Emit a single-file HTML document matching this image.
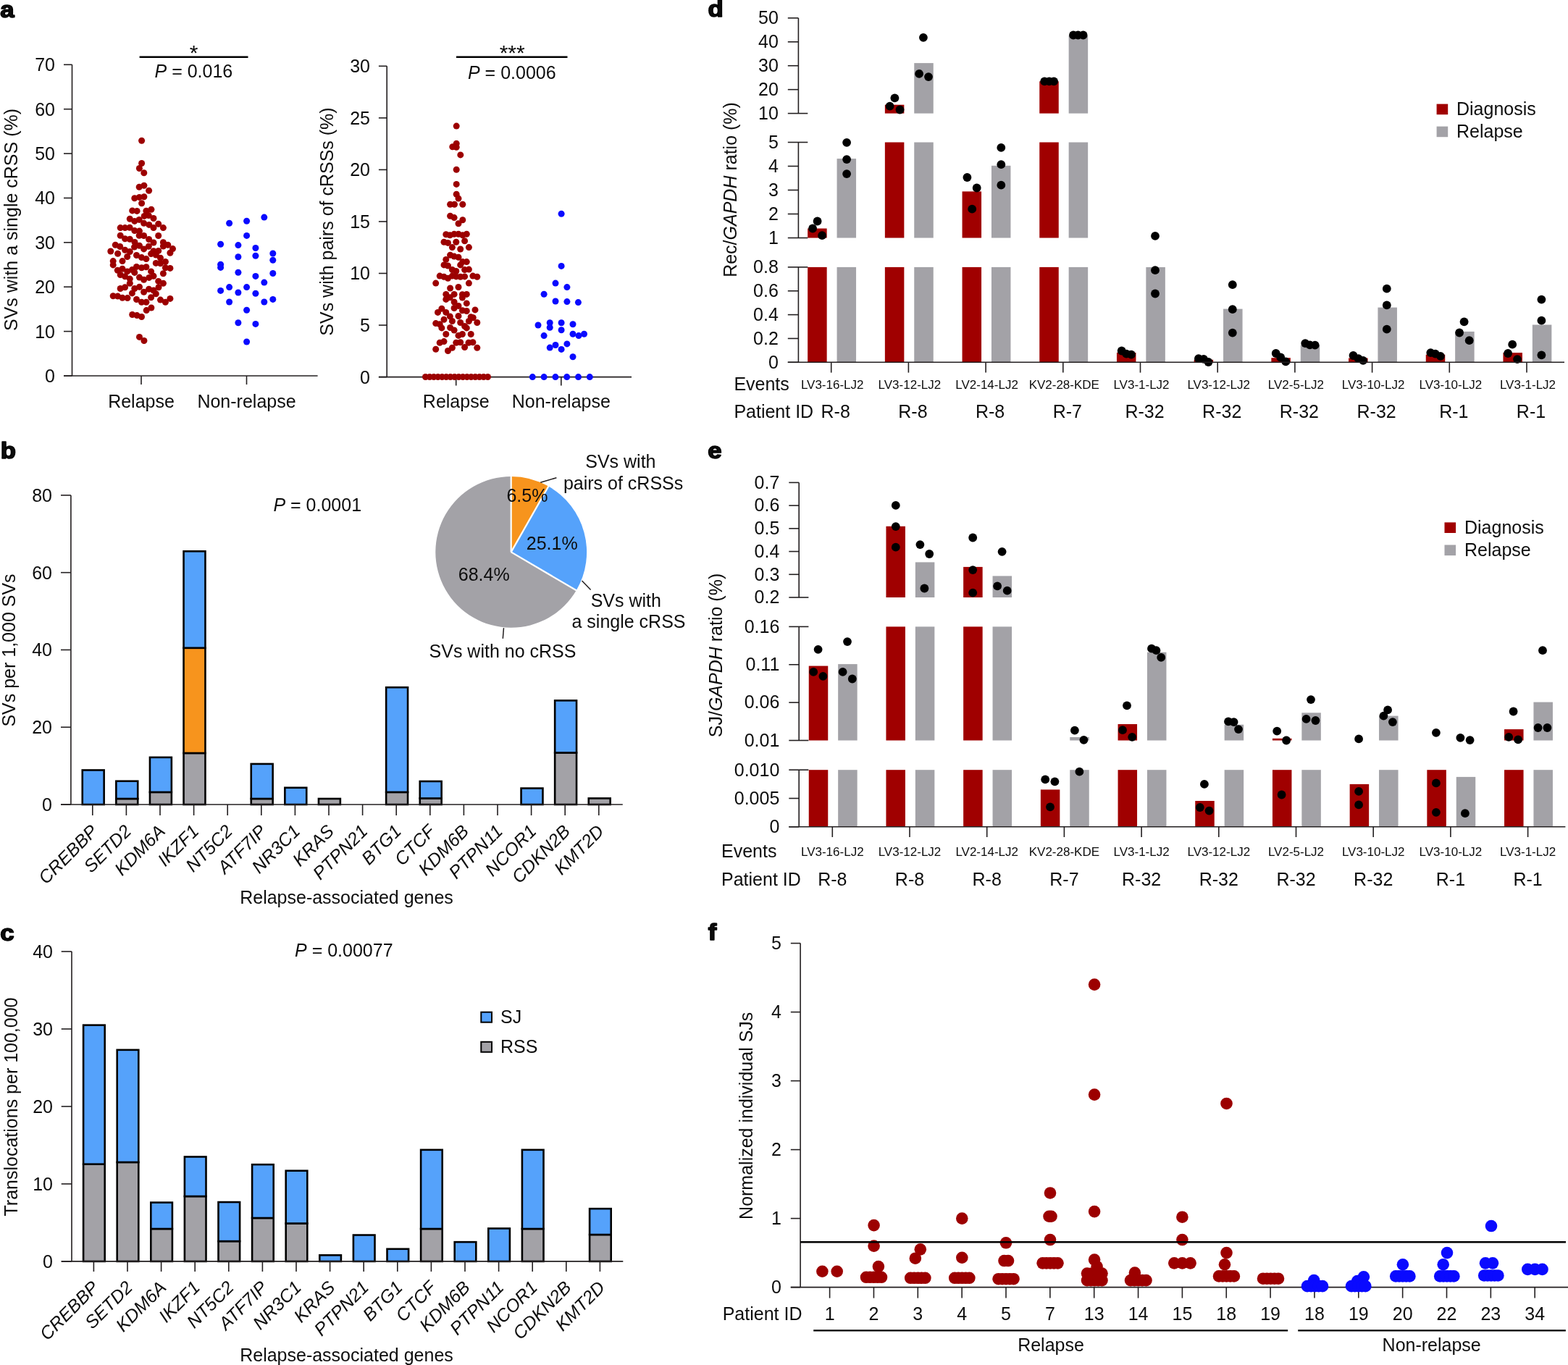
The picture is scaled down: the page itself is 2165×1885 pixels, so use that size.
<!DOCTYPE html>
<html><head><meta charset="utf-8"><title>Figure</title>
<style>
html,body{margin:0;padding:0;background:#fff;}
svg{display:block;}
text{font-family:"Liberation Sans", Arial, Helvetica, sans-serif;fill:#0d0d0d;}
</style></head>
<body>
<svg width="2165" height="1885" viewBox="0 0 2165 1885">
<rect width="2165" height="1885" fill="#fff"/>
<text transform="translate(0.2 23.6) scale(1.07 0.97)" font-size="32.5" font-weight="bold" fill="#000" stroke="#000" stroke-width="1.6" stroke-linejoin="round">a</text>
<line x1="99.5" y1="89.3" x2="99.5" y2="519" stroke="#231f20" stroke-width="1.6"/>
<line x1="88" y1="519" x2="99.5" y2="519" stroke="#231f20" stroke-width="1.6"/>
<text x="76" y="527.9" font-size="25" text-anchor="end">0</text>
<line x1="88" y1="457.61" x2="99.5" y2="457.61" stroke="#231f20" stroke-width="1.6"/>
<text x="76" y="466.51" font-size="25" text-anchor="end">10</text>
<line x1="88" y1="396.23" x2="99.5" y2="396.23" stroke="#231f20" stroke-width="1.6"/>
<text x="76" y="405.13" font-size="25" text-anchor="end">20</text>
<line x1="88" y1="334.84" x2="99.5" y2="334.84" stroke="#231f20" stroke-width="1.6"/>
<text x="76" y="343.74" font-size="25" text-anchor="end">30</text>
<line x1="88" y1="273.46" x2="99.5" y2="273.46" stroke="#231f20" stroke-width="1.6"/>
<text x="76" y="282.36" font-size="25" text-anchor="end">40</text>
<line x1="88" y1="212.07" x2="99.5" y2="212.07" stroke="#231f20" stroke-width="1.6"/>
<text x="76" y="220.97" font-size="25" text-anchor="end">50</text>
<line x1="88" y1="150.69" x2="99.5" y2="150.69" stroke="#231f20" stroke-width="1.6"/>
<text x="76" y="159.59" font-size="25" text-anchor="end">60</text>
<line x1="88" y1="89.3" x2="99.5" y2="89.3" stroke="#231f20" stroke-width="1.6"/>
<text x="76" y="98.2" font-size="25" text-anchor="end">70</text>
<line x1="88" y1="519" x2="438.6" y2="519" stroke="#231f20" stroke-width="1.6"/>
<line x1="195" y1="519" x2="195" y2="531" stroke="#231f20" stroke-width="1.6"/>
<line x1="340.5" y1="519" x2="340.5" y2="531" stroke="#231f20" stroke-width="1.6"/>
<text x="195" y="563" font-size="25" text-anchor="middle">Relapse</text>
<text x="340.5" y="563" font-size="25" text-anchor="middle">Non-relapse</text>
<text x="24" y="303.5" font-size="25" text-anchor="middle" transform="rotate(-90 24 303.5)">SVs with a single cRSS (%)</text>
<line x1="192.6" y1="78.8" x2="342.5" y2="78.8" stroke="#000" stroke-width="2.6"/>
<text x="267.6" y="82.5" font-size="30" text-anchor="middle">*</text>
<text x="267.4" y="106.5" font-size="25" text-anchor="middle"><tspan font-style="italic">P</tspan> = 0.016</text>
<circle cx="195.6" cy="194.3" r="4.5" fill="#9c0000"/>
<circle cx="195.6" cy="225.5" r="4.5" fill="#9c0000"/>
<circle cx="192.4" cy="232.5" r="4.5" fill="#9c0000"/>
<circle cx="198.8" cy="238.8" r="4.5" fill="#9c0000"/>
<circle cx="198.9" cy="256.3" r="4.5" fill="#9c0000"/>
<circle cx="192.2" cy="258.3" r="4.5" fill="#9c0000"/>
<circle cx="205.6" cy="263.3" r="4.5" fill="#9c0000"/>
<circle cx="185.8" cy="273.7" r="4.5" fill="#9c0000"/>
<circle cx="192.4" cy="272.4" r="4.5" fill="#9c0000"/>
<circle cx="198.9" cy="271.7" r="4.5" fill="#9c0000"/>
<circle cx="195.6" cy="280.7" r="4.5" fill="#9c0000"/>
<circle cx="182.7" cy="290.9" r="4.5" fill="#9c0000"/>
<circle cx="189.1" cy="291.4" r="4.5" fill="#9c0000"/>
<circle cx="201.9" cy="291.2" r="4.5" fill="#9c0000"/>
<circle cx="208.9" cy="289.2" r="4.5" fill="#9c0000"/>
<circle cx="199.2" cy="298.4" r="4.5" fill="#9c0000"/>
<circle cx="205.3" cy="297.6" r="4.5" fill="#9c0000"/>
<circle cx="212" cy="301.5" r="4.5" fill="#9c0000"/>
<circle cx="179.3" cy="302.3" r="4.5" fill="#9c0000"/>
<circle cx="185.8" cy="305.4" r="4.5" fill="#9c0000"/>
<circle cx="192.2" cy="303.4" r="4.5" fill="#9c0000"/>
<circle cx="198.6" cy="308.2" r="4.5" fill="#9c0000"/>
<circle cx="205.8" cy="310.4" r="4.5" fill="#9c0000"/>
<circle cx="212" cy="314.6" r="4.5" fill="#9c0000"/>
<circle cx="218.7" cy="309.3" r="4.5" fill="#9c0000"/>
<circle cx="225.4" cy="314.6" r="4.5" fill="#9c0000"/>
<circle cx="166.2" cy="314.6" r="4.5" fill="#9c0000"/>
<circle cx="172.6" cy="314.6" r="4.5" fill="#9c0000"/>
<circle cx="179.1" cy="314.3" r="4.5" fill="#9c0000"/>
<circle cx="185.8" cy="318.5" r="4.5" fill="#9c0000"/>
<circle cx="192.5" cy="319.1" r="4.5" fill="#9c0000"/>
<circle cx="166.2" cy="325.2" r="4.5" fill="#9c0000"/>
<circle cx="172.6" cy="329.7" r="4.5" fill="#9c0000"/>
<circle cx="179.3" cy="330.2" r="4.5" fill="#9c0000"/>
<circle cx="192.2" cy="325.2" r="4.5" fill="#9c0000"/>
<circle cx="198.6" cy="325.5" r="4.5" fill="#9c0000"/>
<circle cx="218.7" cy="325.5" r="4.5" fill="#9c0000"/>
<circle cx="205.6" cy="330.5" r="4.5" fill="#9c0000"/>
<circle cx="212" cy="335" r="4.5" fill="#9c0000"/>
<circle cx="186" cy="334.4" r="4.5" fill="#9c0000"/>
<circle cx="225.4" cy="334.7" r="4.5" fill="#9c0000"/>
<circle cx="159.3" cy="338.3" r="4.5" fill="#9c0000"/>
<circle cx="165.7" cy="340.5" r="4.5" fill="#9c0000"/>
<circle cx="185.5" cy="341.1" r="4.5" fill="#9c0000"/>
<circle cx="192.5" cy="339.2" r="4.5" fill="#9c0000"/>
<circle cx="198.6" cy="343.9" r="4.5" fill="#9c0000"/>
<circle cx="205.3" cy="340.3" r="4.5" fill="#9c0000"/>
<circle cx="225.4" cy="340" r="4.5" fill="#9c0000"/>
<circle cx="231.8" cy="338.3" r="4.5" fill="#9c0000"/>
<circle cx="238.5" cy="343.6" r="4.5" fill="#9c0000"/>
<circle cx="152.8" cy="347" r="4.5" fill="#9c0000"/>
<circle cx="172.6" cy="345.3" r="4.5" fill="#9c0000"/>
<circle cx="179.3" cy="347.5" r="4.5" fill="#9c0000"/>
<circle cx="212" cy="346.7" r="4.5" fill="#9c0000"/>
<circle cx="218.7" cy="346.4" r="4.5" fill="#9c0000"/>
<circle cx="162.6" cy="350.3" r="4.5" fill="#9c0000"/>
<circle cx="175.7" cy="354.5" r="4.5" fill="#9c0000"/>
<circle cx="188.5" cy="352.5" r="4.5" fill="#9c0000"/>
<circle cx="195.5" cy="355.6" r="4.5" fill="#9c0000"/>
<circle cx="201.9" cy="357.6" r="4.5" fill="#9c0000"/>
<circle cx="208.6" cy="350.6" r="4.5" fill="#9c0000"/>
<circle cx="215.3" cy="352" r="4.5" fill="#9c0000"/>
<circle cx="234.9" cy="349.2" r="4.5" fill="#9c0000"/>
<circle cx="156.2" cy="360.6" r="4.5" fill="#9c0000"/>
<circle cx="156.2" cy="365.9" r="4.5" fill="#9c0000"/>
<circle cx="169" cy="360.6" r="4.5" fill="#9c0000"/>
<circle cx="221.5" cy="356.2" r="4.5" fill="#9c0000"/>
<circle cx="228.4" cy="361.5" r="4.5" fill="#9c0000"/>
<circle cx="215.3" cy="363.4" r="4.5" fill="#9c0000"/>
<circle cx="221.5" cy="363.7" r="4.5" fill="#9c0000"/>
<circle cx="188.5" cy="368.4" r="4.5" fill="#9c0000"/>
<circle cx="195.5" cy="369.8" r="4.5" fill="#9c0000"/>
<circle cx="201.9" cy="368.7" r="4.5" fill="#9c0000"/>
<circle cx="169" cy="371.2" r="4.5" fill="#9c0000"/>
<circle cx="162.3" cy="373.2" r="4.5" fill="#9c0000"/>
<circle cx="175.7" cy="374.9" r="4.5" fill="#9c0000"/>
<circle cx="182.4" cy="372.6" r="4.5" fill="#9c0000"/>
<circle cx="208.6" cy="374.9" r="4.5" fill="#9c0000"/>
<circle cx="228.4" cy="369.8" r="4.5" fill="#9c0000"/>
<circle cx="234.9" cy="370.4" r="4.5" fill="#9c0000"/>
<circle cx="225.4" cy="377.7" r="4.5" fill="#9c0000"/>
<circle cx="185.8" cy="376.4" r="4.5" fill="#9c0000"/>
<circle cx="166.2" cy="379.5" r="4.5" fill="#9c0000"/>
<circle cx="172.6" cy="381.7" r="4.5" fill="#9c0000"/>
<circle cx="179.3" cy="385.1" r="4.5" fill="#9c0000"/>
<circle cx="179.3" cy="391.2" r="4.5" fill="#9c0000"/>
<circle cx="192.5" cy="383.1" r="4.5" fill="#9c0000"/>
<circle cx="198.6" cy="386.2" r="4.5" fill="#9c0000"/>
<circle cx="205.8" cy="383.4" r="4.5" fill="#9c0000"/>
<circle cx="212" cy="381.2" r="4.5" fill="#9c0000"/>
<circle cx="218.7" cy="388.4" r="4.5" fill="#9c0000"/>
<circle cx="225.4" cy="391.2" r="4.5" fill="#9c0000"/>
<circle cx="219" cy="396.8" r="4.5" fill="#9c0000"/>
<circle cx="166.2" cy="398.5" r="4.5" fill="#9c0000"/>
<circle cx="172.6" cy="396.8" r="4.5" fill="#9c0000"/>
<circle cx="185.8" cy="398.5" r="4.5" fill="#9c0000"/>
<circle cx="192.5" cy="396.2" r="4.5" fill="#9c0000"/>
<circle cx="182.4" cy="404.9" r="4.5" fill="#9c0000"/>
<circle cx="198.6" cy="403.2" r="4.5" fill="#9c0000"/>
<circle cx="205.6" cy="399.3" r="4.5" fill="#9c0000"/>
<circle cx="212" cy="401" r="4.5" fill="#9c0000"/>
<circle cx="215.3" cy="405.7" r="4.5" fill="#9c0000"/>
<circle cx="156.2" cy="408.8" r="4.5" fill="#9c0000"/>
<circle cx="162.6" cy="409.1" r="4.5" fill="#9c0000"/>
<circle cx="169" cy="411.3" r="4.5" fill="#9c0000"/>
<circle cx="176" cy="411.6" r="4.5" fill="#9c0000"/>
<circle cx="188.5" cy="413.5" r="4.5" fill="#9c0000"/>
<circle cx="195.5" cy="417.2" r="4.5" fill="#9c0000"/>
<circle cx="201.9" cy="417.2" r="4.5" fill="#9c0000"/>
<circle cx="208.6" cy="410.7" r="4.5" fill="#9c0000"/>
<circle cx="221.5" cy="414.1" r="4.5" fill="#9c0000"/>
<circle cx="228.4" cy="417.2" r="4.5" fill="#9c0000"/>
<circle cx="234.9" cy="412.4" r="4.5" fill="#9c0000"/>
<circle cx="208.9" cy="425" r="4.5" fill="#9c0000"/>
<circle cx="202.2" cy="428.6" r="4.5" fill="#9c0000"/>
<circle cx="182.7" cy="434.5" r="4.5" fill="#9c0000"/>
<circle cx="189.1" cy="435.6" r="4.5" fill="#9c0000"/>
<circle cx="195.5" cy="437.5" r="4.5" fill="#9c0000"/>
<circle cx="192.5" cy="465.4" r="4.5" fill="#9c0000"/>
<circle cx="198.9" cy="470.5" r="4.5" fill="#9c0000"/>
<circle cx="316.6" cy="308.2" r="4.5" fill="#0a0aff"/>
<circle cx="340.6" cy="305.3" r="4.5" fill="#0a0aff"/>
<circle cx="364.8" cy="300.1" r="4.5" fill="#0a0aff"/>
<circle cx="340.6" cy="325.4" r="4.5" fill="#0a0aff"/>
<circle cx="304.6" cy="337.3" r="4.5" fill="#0a0aff"/>
<circle cx="328.9" cy="338.6" r="4.5" fill="#0a0aff"/>
<circle cx="352.9" cy="342.5" r="4.5" fill="#0a0aff"/>
<circle cx="328.9" cy="354.8" r="4.5" fill="#0a0aff"/>
<circle cx="352.9" cy="353.2" r="4.5" fill="#0a0aff"/>
<circle cx="376.8" cy="350" r="4.5" fill="#0a0aff"/>
<circle cx="304.6" cy="365.2" r="4.5" fill="#0a0aff"/>
<circle cx="304.6" cy="369.4" r="4.5" fill="#0a0aff"/>
<circle cx="376.8" cy="359.3" r="4.5" fill="#0a0aff"/>
<circle cx="328.9" cy="376.2" r="4.5" fill="#0a0aff"/>
<circle cx="352.9" cy="381.4" r="4.5" fill="#0a0aff"/>
<circle cx="376.8" cy="377.5" r="4.5" fill="#0a0aff"/>
<circle cx="364.8" cy="390.1" r="4.5" fill="#0a0aff"/>
<circle cx="304.6" cy="401.4" r="4.5" fill="#0a0aff"/>
<circle cx="316.6" cy="396.6" r="4.5" fill="#0a0aff"/>
<circle cx="328.9" cy="404" r="4.5" fill="#0a0aff"/>
<circle cx="340.6" cy="396.6" r="4.5" fill="#0a0aff"/>
<circle cx="352.9" cy="405.3" r="4.5" fill="#0a0aff"/>
<circle cx="316.6" cy="417" r="4.5" fill="#0a0aff"/>
<circle cx="364.8" cy="417" r="4.5" fill="#0a0aff"/>
<circle cx="376.8" cy="413.4" r="4.5" fill="#0a0aff"/>
<circle cx="340.6" cy="428.3" r="4.5" fill="#0a0aff"/>
<circle cx="328.9" cy="445.8" r="4.5" fill="#0a0aff"/>
<circle cx="352.9" cy="447.4" r="4.5" fill="#0a0aff"/>
<circle cx="340.6" cy="472" r="4.5" fill="#0a0aff"/>
<line x1="534.2" y1="91.3" x2="534.2" y2="520.6" stroke="#231f20" stroke-width="1.6"/>
<line x1="522.9" y1="520.6" x2="534.2" y2="520.6" stroke="#231f20" stroke-width="1.6"/>
<text x="511" y="529.5" font-size="25" text-anchor="end">0</text>
<line x1="522.9" y1="449.05" x2="534.2" y2="449.05" stroke="#231f20" stroke-width="1.6"/>
<text x="511" y="457.95" font-size="25" text-anchor="end">5</text>
<line x1="522.9" y1="377.5" x2="534.2" y2="377.5" stroke="#231f20" stroke-width="1.6"/>
<text x="511" y="386.4" font-size="25" text-anchor="end">10</text>
<line x1="522.9" y1="305.95" x2="534.2" y2="305.95" stroke="#231f20" stroke-width="1.6"/>
<text x="511" y="314.85" font-size="25" text-anchor="end">15</text>
<line x1="522.9" y1="234.4" x2="534.2" y2="234.4" stroke="#231f20" stroke-width="1.6"/>
<text x="511" y="243.3" font-size="25" text-anchor="end">20</text>
<line x1="522.9" y1="162.85" x2="534.2" y2="162.85" stroke="#231f20" stroke-width="1.6"/>
<text x="511" y="171.75" font-size="25" text-anchor="end">25</text>
<line x1="522.9" y1="91.3" x2="534.2" y2="91.3" stroke="#231f20" stroke-width="1.6"/>
<text x="511" y="100.2" font-size="25" text-anchor="end">30</text>
<line x1="522.9" y1="520.6" x2="872" y2="520.6" stroke="#231f20" stroke-width="1.6"/>
<line x1="629.7" y1="520.6" x2="629.7" y2="532.5" stroke="#231f20" stroke-width="1.6"/>
<line x1="774.8" y1="520.6" x2="774.8" y2="532.5" stroke="#231f20" stroke-width="1.6"/>
<text x="629.7" y="563" font-size="25" text-anchor="middle">Relapse</text>
<text x="774.8" y="563" font-size="25" text-anchor="middle">Non-relapse</text>
<text x="459.5" y="306" font-size="25" text-anchor="middle" transform="rotate(-90 459.5 306)">SVs with pairs of cRSSs (%)</text>
<line x1="630" y1="78.8" x2="783.5" y2="78.8" stroke="#000" stroke-width="2.6"/>
<text x="707.2" y="82.5" font-size="30" text-anchor="middle">***</text>
<text x="706.8" y="108.5" font-size="25" text-anchor="middle"><tspan font-style="italic">P</tspan> = 0.0006</text>
<circle cx="630.2" cy="174.1" r="4.5" fill="#9c0000"/>
<circle cx="630.2" cy="198.2" r="4.5" fill="#9c0000"/>
<circle cx="624.8" cy="202.8" r="4.5" fill="#9c0000"/>
<circle cx="630.2" cy="203.2" r="4.5" fill="#9c0000"/>
<circle cx="635.8" cy="213.9" r="4.5" fill="#9c0000"/>
<circle cx="630.2" cy="234.3" r="4.5" fill="#9c0000"/>
<circle cx="630.2" cy="254.4" r="4.5" fill="#9c0000"/>
<circle cx="630.2" cy="268.2" r="4.5" fill="#9c0000"/>
<circle cx="633" cy="274.1" r="4.5" fill="#9c0000"/>
<circle cx="621.6" cy="282.3" r="4.5" fill="#9c0000"/>
<circle cx="627.5" cy="282.3" r="4.5" fill="#9c0000"/>
<circle cx="638.8" cy="282.3" r="4.5" fill="#9c0000"/>
<circle cx="621.6" cy="298.3" r="4.5" fill="#9c0000"/>
<circle cx="627.1" cy="300.6" r="4.5" fill="#9c0000"/>
<circle cx="638.8" cy="303.8" r="4.5" fill="#9c0000"/>
<circle cx="633" cy="308.8" r="4.5" fill="#9c0000"/>
<circle cx="615.8" cy="323.7" r="4.5" fill="#9c0000"/>
<circle cx="621.3" cy="324.8" r="4.5" fill="#9c0000"/>
<circle cx="627.1" cy="323.3" r="4.5" fill="#9c0000"/>
<circle cx="633" cy="323.3" r="4.5" fill="#9c0000"/>
<circle cx="638.8" cy="324.8" r="4.5" fill="#9c0000"/>
<circle cx="644.3" cy="323.3" r="4.5" fill="#9c0000"/>
<circle cx="613" cy="334.2" r="4.5" fill="#9c0000"/>
<circle cx="618.5" cy="335.4" r="4.5" fill="#9c0000"/>
<circle cx="629.8" cy="334.2" r="4.5" fill="#9c0000"/>
<circle cx="641.6" cy="332.7" r="4.5" fill="#9c0000"/>
<circle cx="624.4" cy="341.6" r="4.5" fill="#9c0000"/>
<circle cx="635.7" cy="344" r="4.5" fill="#9c0000"/>
<circle cx="647.4" cy="341.6" r="4.5" fill="#9c0000"/>
<circle cx="621.6" cy="352.2" r="4.5" fill="#9c0000"/>
<circle cx="627.1" cy="354.1" r="4.5" fill="#9c0000"/>
<circle cx="633" cy="355.3" r="4.5" fill="#9c0000"/>
<circle cx="615.8" cy="358.4" r="4.5" fill="#9c0000"/>
<circle cx="644.3" cy="361.6" r="4.5" fill="#9c0000"/>
<circle cx="638.8" cy="361.6" r="4.5" fill="#9c0000"/>
<circle cx="613" cy="365.9" r="4.5" fill="#9c0000"/>
<circle cx="618.5" cy="367" r="4.5" fill="#9c0000"/>
<circle cx="635.7" cy="365.9" r="4.5" fill="#9c0000"/>
<circle cx="624.4" cy="372.5" r="4.5" fill="#9c0000"/>
<circle cx="629.8" cy="374.5" r="4.5" fill="#9c0000"/>
<circle cx="641.6" cy="372.5" r="4.5" fill="#9c0000"/>
<circle cx="647.4" cy="372.1" r="4.5" fill="#9c0000"/>
<circle cx="607.2" cy="381.1" r="4.5" fill="#9c0000"/>
<circle cx="613" cy="382.3" r="4.5" fill="#9c0000"/>
<circle cx="618.5" cy="384.2" r="4.5" fill="#9c0000"/>
<circle cx="624.4" cy="381.1" r="4.5" fill="#9c0000"/>
<circle cx="629.8" cy="381.9" r="4.5" fill="#9c0000"/>
<circle cx="635.7" cy="382.3" r="4.5" fill="#9c0000"/>
<circle cx="641.6" cy="381.9" r="4.5" fill="#9c0000"/>
<circle cx="652.9" cy="381.1" r="4.5" fill="#9c0000"/>
<circle cx="658.8" cy="382.3" r="4.5" fill="#9c0000"/>
<circle cx="601.7" cy="391.1" r="4.5" fill="#9c0000"/>
<circle cx="647.4" cy="391.1" r="4.5" fill="#9c0000"/>
<circle cx="621.6" cy="398" r="4.5" fill="#9c0000"/>
<circle cx="633" cy="396.5" r="4.5" fill="#9c0000"/>
<circle cx="615.8" cy="406.4" r="4.5" fill="#9c0000"/>
<circle cx="627.1" cy="406.4" r="4.5" fill="#9c0000"/>
<circle cx="638.4" cy="406.8" r="4.5" fill="#9c0000"/>
<circle cx="644.3" cy="406.4" r="4.5" fill="#9c0000"/>
<circle cx="615.8" cy="413.4" r="4.5" fill="#9c0000"/>
<circle cx="621.3" cy="410.7" r="4.5" fill="#9c0000"/>
<circle cx="638.4" cy="411.1" r="4.5" fill="#9c0000"/>
<circle cx="627.1" cy="417" r="4.5" fill="#9c0000"/>
<circle cx="644.3" cy="418.9" r="4.5" fill="#9c0000"/>
<circle cx="633" cy="422.4" r="4.5" fill="#9c0000"/>
<circle cx="609.9" cy="426.3" r="4.5" fill="#9c0000"/>
<circle cx="627.1" cy="425.5" r="4.5" fill="#9c0000"/>
<circle cx="638.4" cy="428.7" r="4.5" fill="#9c0000"/>
<circle cx="644.3" cy="429.5" r="4.5" fill="#9c0000"/>
<circle cx="656" cy="427.9" r="4.5" fill="#9c0000"/>
<circle cx="604.5" cy="431.4" r="4.5" fill="#9c0000"/>
<circle cx="615.8" cy="431.4" r="4.5" fill="#9c0000"/>
<circle cx="621.3" cy="436.9" r="4.5" fill="#9c0000"/>
<circle cx="633" cy="436.5" r="4.5" fill="#9c0000"/>
<circle cx="650.2" cy="437.7" r="4.5" fill="#9c0000"/>
<circle cx="653.3" cy="438.8" r="4.5" fill="#9c0000"/>
<circle cx="613" cy="441.2" r="4.5" fill="#9c0000"/>
<circle cx="624.4" cy="443.5" r="4.5" fill="#9c0000"/>
<circle cx="635.7" cy="445.5" r="4.5" fill="#9c0000"/>
<circle cx="647.4" cy="443.5" r="4.5" fill="#9c0000"/>
<circle cx="658.8" cy="445.5" r="4.5" fill="#9c0000"/>
<circle cx="601.7" cy="446.6" r="4.5" fill="#9c0000"/>
<circle cx="607.2" cy="447.8" r="4.5" fill="#9c0000"/>
<circle cx="609.9" cy="452.9" r="4.5" fill="#9c0000"/>
<circle cx="621.6" cy="452.5" r="4.5" fill="#9c0000"/>
<circle cx="627.1" cy="456" r="4.5" fill="#9c0000"/>
<circle cx="641.6" cy="450.5" r="4.5" fill="#9c0000"/>
<circle cx="644.3" cy="452.9" r="4.5" fill="#9c0000"/>
<circle cx="615.8" cy="461.5" r="4.5" fill="#9c0000"/>
<circle cx="633" cy="463.4" r="4.5" fill="#9c0000"/>
<circle cx="638.4" cy="461.5" r="4.5" fill="#9c0000"/>
<circle cx="650.2" cy="461.5" r="4.5" fill="#9c0000"/>
<circle cx="607.2" cy="473.2" r="4.5" fill="#9c0000"/>
<circle cx="613" cy="471.6" r="4.5" fill="#9c0000"/>
<circle cx="629.8" cy="473.2" r="4.5" fill="#9c0000"/>
<circle cx="635.7" cy="472.8" r="4.5" fill="#9c0000"/>
<circle cx="647" cy="473.2" r="4.5" fill="#9c0000"/>
<circle cx="652.9" cy="472.8" r="4.5" fill="#9c0000"/>
<circle cx="601.7" cy="482.2" r="4.5" fill="#9c0000"/>
<circle cx="618.5" cy="484.5" r="4.5" fill="#9c0000"/>
<circle cx="624.4" cy="480.2" r="4.5" fill="#9c0000"/>
<circle cx="641.6" cy="479.5" r="4.5" fill="#9c0000"/>
<circle cx="658.8" cy="480.2" r="4.5" fill="#9c0000"/>
<circle cx="587.5" cy="520.5" r="4.5" fill="#9c0000"/>
<circle cx="593.23" cy="520.5" r="4.5" fill="#9c0000"/>
<circle cx="598.96" cy="520.5" r="4.5" fill="#9c0000"/>
<circle cx="604.69" cy="520.5" r="4.5" fill="#9c0000"/>
<circle cx="610.42" cy="520.5" r="4.5" fill="#9c0000"/>
<circle cx="616.15" cy="520.5" r="4.5" fill="#9c0000"/>
<circle cx="621.88" cy="520.5" r="4.5" fill="#9c0000"/>
<circle cx="627.61" cy="520.5" r="4.5" fill="#9c0000"/>
<circle cx="633.34" cy="520.5" r="4.5" fill="#9c0000"/>
<circle cx="639.07" cy="520.5" r="4.5" fill="#9c0000"/>
<circle cx="644.8" cy="520.5" r="4.5" fill="#9c0000"/>
<circle cx="650.53" cy="520.5" r="4.5" fill="#9c0000"/>
<circle cx="656.26" cy="520.5" r="4.5" fill="#9c0000"/>
<circle cx="661.99" cy="520.5" r="4.5" fill="#9c0000"/>
<circle cx="667.72" cy="520.5" r="4.5" fill="#9c0000"/>
<circle cx="673.45" cy="520.5" r="4.5" fill="#9c0000"/>
<circle cx="775.1" cy="295.2" r="4.5" fill="#0a0aff"/>
<circle cx="775.1" cy="367.4" r="4.5" fill="#0a0aff"/>
<circle cx="767" cy="391.1" r="4.5" fill="#0a0aff"/>
<circle cx="782.9" cy="396.6" r="4.5" fill="#0a0aff"/>
<circle cx="751.1" cy="406.3" r="4.5" fill="#0a0aff"/>
<circle cx="767" cy="416" r="4.5" fill="#0a0aff"/>
<circle cx="782.9" cy="416.6" r="4.5" fill="#0a0aff"/>
<circle cx="798.4" cy="417.6" r="4.5" fill="#0a0aff"/>
<circle cx="743" cy="449" r="4.5" fill="#0a0aff"/>
<circle cx="759.2" cy="445.8" r="4.5" fill="#0a0aff"/>
<circle cx="759.2" cy="452.2" r="4.5" fill="#0a0aff"/>
<circle cx="775.1" cy="445.8" r="4.5" fill="#0a0aff"/>
<circle cx="791" cy="447.7" r="4.5" fill="#0a0aff"/>
<circle cx="775.1" cy="455.8" r="4.5" fill="#0a0aff"/>
<circle cx="751.1" cy="463.6" r="4.5" fill="#0a0aff"/>
<circle cx="791" cy="461.3" r="4.5" fill="#0a0aff"/>
<circle cx="799" cy="463.6" r="4.5" fill="#0a0aff"/>
<circle cx="806.5" cy="461.3" r="4.5" fill="#0a0aff"/>
<circle cx="759.2" cy="480.1" r="4.5" fill="#0a0aff"/>
<circle cx="767" cy="476.5" r="4.5" fill="#0a0aff"/>
<circle cx="775.1" cy="482.4" r="4.5" fill="#0a0aff"/>
<circle cx="782.9" cy="474.9" r="4.5" fill="#0a0aff"/>
<circle cx="791" cy="492.7" r="4.5" fill="#0a0aff"/>
<circle cx="735.3" cy="520.6" r="4.5" fill="#0a0aff"/>
<circle cx="751.1" cy="520.6" r="4.5" fill="#0a0aff"/>
<circle cx="766.9" cy="520.6" r="4.5" fill="#0a0aff"/>
<circle cx="782.7" cy="520.6" r="4.5" fill="#0a0aff"/>
<circle cx="798.5" cy="520.6" r="4.5" fill="#0a0aff"/>
<circle cx="814.3" cy="520.6" r="4.5" fill="#0a0aff"/>
<text transform="translate(0.8 633) scale(1.07 0.97)" font-size="32.5" font-weight="bold" fill="#000" stroke="#000" stroke-width="1.6" stroke-linejoin="round">b</text>
<line x1="97.9" y1="683.9" x2="97.9" y2="1111" stroke="#231f20" stroke-width="1.6"/>
<line x1="84" y1="1111" x2="97.9" y2="1111" stroke="#231f20" stroke-width="1.6"/>
<text x="72" y="1119.9" font-size="25" text-anchor="end">0</text>
<line x1="84" y1="1004.23" x2="97.9" y2="1004.23" stroke="#231f20" stroke-width="1.6"/>
<text x="72" y="1013.12" font-size="25" text-anchor="end">20</text>
<line x1="84" y1="897.45" x2="97.9" y2="897.45" stroke="#231f20" stroke-width="1.6"/>
<text x="72" y="906.35" font-size="25" text-anchor="end">40</text>
<line x1="84" y1="790.67" x2="97.9" y2="790.67" stroke="#231f20" stroke-width="1.6"/>
<text x="72" y="799.57" font-size="25" text-anchor="end">60</text>
<line x1="84" y1="683.9" x2="97.9" y2="683.9" stroke="#231f20" stroke-width="1.6"/>
<text x="72" y="692.8" font-size="25" text-anchor="end">80</text>
<rect x="113.75" y="1063.49" width="29.9" height="47.51" fill="#55a2fb" stroke="#000" stroke-width="2.6"/>
<rect x="160.35" y="1102.99" width="29.9" height="8.01" fill="#a3a2a7" stroke="#000" stroke-width="2.6"/>
<rect x="160.35" y="1078.7" width="29.9" height="24.29" fill="#55a2fb" stroke="#000" stroke-width="2.6"/>
<rect x="206.95" y="1093.92" width="29.9" height="17.08" fill="#a3a2a7" stroke="#000" stroke-width="2.6"/>
<rect x="206.95" y="1045.87" width="29.9" height="48.05" fill="#55a2fb" stroke="#000" stroke-width="2.6"/>
<rect x="253.55" y="1039.99" width="29.9" height="71.01" fill="#a3a2a7" stroke="#000" stroke-width="2.6"/>
<rect x="253.55" y="894.78" width="29.9" height="145.21" fill="#f7941d" stroke="#000" stroke-width="2.6"/>
<rect x="253.55" y="761.31" width="29.9" height="133.47" fill="#55a2fb" stroke="#000" stroke-width="2.6"/>
<rect x="346.75" y="1102.99" width="29.9" height="8.01" fill="#a3a2a7" stroke="#000" stroke-width="2.6"/>
<rect x="346.75" y="1054.94" width="29.9" height="48.05" fill="#55a2fb" stroke="#000" stroke-width="2.6"/>
<rect x="393.35" y="1087.78" width="29.9" height="23.22" fill="#55a2fb" stroke="#000" stroke-width="2.6"/>
<rect x="439.95" y="1102.99" width="29.9" height="8.01" fill="#a3a2a7" stroke="#000" stroke-width="2.6"/>
<rect x="533.15" y="1093.92" width="29.9" height="17.08" fill="#a3a2a7" stroke="#000" stroke-width="2.6"/>
<rect x="533.15" y="949.24" width="29.9" height="144.68" fill="#55a2fb" stroke="#000" stroke-width="2.6"/>
<rect x="579.75" y="1102.46" width="29.9" height="8.54" fill="#a3a2a7" stroke="#000" stroke-width="2.6"/>
<rect x="579.75" y="1078.97" width="29.9" height="23.49" fill="#55a2fb" stroke="#000" stroke-width="2.6"/>
<rect x="719.55" y="1088.58" width="29.9" height="22.42" fill="#55a2fb" stroke="#000" stroke-width="2.6"/>
<rect x="766.15" y="1039.46" width="29.9" height="71.54" fill="#a3a2a7" stroke="#000" stroke-width="2.6"/>
<rect x="766.15" y="967.39" width="29.9" height="72.07" fill="#55a2fb" stroke="#000" stroke-width="2.6"/>
<rect x="812.75" y="1102.46" width="29.9" height="8.54" fill="#a3a2a7" stroke="#000" stroke-width="2.6"/>
<line x1="84" y1="1111" x2="859.8" y2="1111" stroke="#231f20" stroke-width="1.6"/>
<line x1="127.8" y1="1111" x2="127.8" y2="1126" stroke="#231f20" stroke-width="1.6"/>
<line x1="174.4" y1="1111" x2="174.4" y2="1126" stroke="#231f20" stroke-width="1.6"/>
<line x1="221" y1="1111" x2="221" y2="1126" stroke="#231f20" stroke-width="1.6"/>
<line x1="267.6" y1="1111" x2="267.6" y2="1126" stroke="#231f20" stroke-width="1.6"/>
<line x1="314.2" y1="1111" x2="314.2" y2="1126" stroke="#231f20" stroke-width="1.6"/>
<line x1="360.8" y1="1111" x2="360.8" y2="1126" stroke="#231f20" stroke-width="1.6"/>
<line x1="407.4" y1="1111" x2="407.4" y2="1126" stroke="#231f20" stroke-width="1.6"/>
<line x1="454" y1="1111" x2="454" y2="1126" stroke="#231f20" stroke-width="1.6"/>
<line x1="500.6" y1="1111" x2="500.6" y2="1126" stroke="#231f20" stroke-width="1.6"/>
<line x1="547.2" y1="1111" x2="547.2" y2="1126" stroke="#231f20" stroke-width="1.6"/>
<line x1="593.8" y1="1111" x2="593.8" y2="1126" stroke="#231f20" stroke-width="1.6"/>
<line x1="640.4" y1="1111" x2="640.4" y2="1126" stroke="#231f20" stroke-width="1.6"/>
<line x1="687" y1="1111" x2="687" y2="1126" stroke="#231f20" stroke-width="1.6"/>
<line x1="733.6" y1="1111" x2="733.6" y2="1126" stroke="#231f20" stroke-width="1.6"/>
<line x1="780.2" y1="1111" x2="780.2" y2="1126" stroke="#231f20" stroke-width="1.6"/>
<line x1="826.8" y1="1111" x2="826.8" y2="1126" stroke="#231f20" stroke-width="1.6"/>
<text x="136.3" y="1149.5" font-size="25" text-anchor="end" font-style="italic" transform="rotate(-45 136.3 1149.5)">CREBBP</text>
<text x="182.9" y="1149.5" font-size="25" text-anchor="end" font-style="italic" transform="rotate(-45 182.9 1149.5)">SETD2</text>
<text x="229.5" y="1149.5" font-size="25" text-anchor="end" font-style="italic" transform="rotate(-45 229.5 1149.5)">KDM6A</text>
<text x="276.1" y="1149.5" font-size="25" text-anchor="end" font-style="italic" transform="rotate(-45 276.1 1149.5)">IKZF1</text>
<text x="322.7" y="1149.5" font-size="25" text-anchor="end" font-style="italic" transform="rotate(-45 322.7 1149.5)">NT5C2</text>
<text x="369.3" y="1149.5" font-size="25" text-anchor="end" font-style="italic" transform="rotate(-45 369.3 1149.5)">ATF7IP</text>
<text x="415.9" y="1149.5" font-size="25" text-anchor="end" font-style="italic" transform="rotate(-45 415.9 1149.5)">NR3C1</text>
<text x="462.5" y="1149.5" font-size="25" text-anchor="end" font-style="italic" transform="rotate(-45 462.5 1149.5)">KRAS</text>
<text x="509.1" y="1149.5" font-size="25" text-anchor="end" font-style="italic" transform="rotate(-45 509.1 1149.5)">PTPN21</text>
<text x="555.7" y="1149.5" font-size="25" text-anchor="end" font-style="italic" transform="rotate(-45 555.7 1149.5)">BTG1</text>
<text x="602.3" y="1149.5" font-size="25" text-anchor="end" font-style="italic" transform="rotate(-45 602.3 1149.5)">CTCF</text>
<text x="648.9" y="1149.5" font-size="25" text-anchor="end" font-style="italic" transform="rotate(-45 648.9 1149.5)">KDM6B</text>
<text x="695.5" y="1149.5" font-size="25" text-anchor="end" font-style="italic" transform="rotate(-45 695.5 1149.5)">PTPN11</text>
<text x="742.1" y="1149.5" font-size="25" text-anchor="end" font-style="italic" transform="rotate(-45 742.1 1149.5)">NCOR1</text>
<text x="788.7" y="1149.5" font-size="25" text-anchor="end" font-style="italic" transform="rotate(-45 788.7 1149.5)">CDKN2B</text>
<text x="835.3" y="1149.5" font-size="25" text-anchor="end" font-style="italic" transform="rotate(-45 835.3 1149.5)">KMT2D</text>
<text x="478.5" y="1248" font-size="25" text-anchor="middle">Relapse-associated genes</text>
<text x="20.5" y="898" font-size="25" text-anchor="middle" transform="rotate(-90 20.5 898)">SVs per 1,000 SVs</text>
<text x="377.4" y="706" font-size="25"><tspan font-style="italic">P</tspan> = 0.0001</text>
<path d="M705.7 762.4 L705.7 658 A104.4 104.4 0 0 1 757.27 671.62 Z" fill="#f7941d"/>
<path d="M705.7 762.4 L757.27 671.62 A104.4 104.4 0 0 1 795.75 815.23 Z" fill="#55a2fb"/>
<path d="M705.7 762.4 L795.75 815.23 A104.4 104.4 0 1 1 705.7 658 Z" fill="#a3a2a7"/>
<line x1="705.7" y1="762.4" x2="705.7" y2="657.5" stroke="#fff" stroke-width="2.2"/>
<line x1="705.7" y1="762.4" x2="757.51" y2="671.19" stroke="#fff" stroke-width="2.2"/>
<line x1="705.7" y1="762.4" x2="796.18" y2="815.48" stroke="#fff" stroke-width="2.2"/>
<text x="727.9" y="692.5" font-size="25" text-anchor="middle">6.5%</text>
<text x="762.2" y="759" font-size="25" text-anchor="middle">25.1%</text>
<text x="668.2" y="801.5" font-size="25" text-anchor="middle">68.4%</text>
<text x="856.9" y="646" font-size="25" text-anchor="middle">SVs with</text>
<text x="860.6" y="675.5" font-size="25" text-anchor="middle">pairs of cRSSs</text>
<line x1="746.3" y1="666.3" x2="768.4" y2="659.7" stroke="#231f20" stroke-width="1.5"/>
<text x="864.3" y="837.6" font-size="25" text-anchor="middle">SVs with</text>
<text x="868" y="867.1" font-size="25" text-anchor="middle">a single cRSS</text>
<line x1="803.5" y1="801.9" x2="815.6" y2="814.4" stroke="#231f20" stroke-width="1.5"/>
<text x="694" y="907.7" font-size="25" text-anchor="middle">SVs with no cRSS</text>
<line x1="695.5" y1="867.1" x2="694.3" y2="881.9" stroke="#231f20" stroke-width="1.5"/>
<text transform="translate(0.3 1298.9) scale(1.07 0.97)" font-size="32.5" font-weight="bold" fill="#000" stroke="#000" stroke-width="1.6" stroke-linejoin="round">c</text>
<line x1="99" y1="1314" x2="99" y2="1741.9" stroke="#231f20" stroke-width="1.6"/>
<line x1="84.7" y1="1741.9" x2="99" y2="1741.9" stroke="#231f20" stroke-width="1.6"/>
<text x="73" y="1750.8" font-size="25" text-anchor="end">0</text>
<line x1="84.7" y1="1634.93" x2="99" y2="1634.93" stroke="#231f20" stroke-width="1.6"/>
<text x="73" y="1643.83" font-size="25" text-anchor="end">10</text>
<line x1="84.7" y1="1527.95" x2="99" y2="1527.95" stroke="#231f20" stroke-width="1.6"/>
<text x="73" y="1536.85" font-size="25" text-anchor="end">20</text>
<line x1="84.7" y1="1420.97" x2="99" y2="1420.97" stroke="#231f20" stroke-width="1.6"/>
<text x="73" y="1429.88" font-size="25" text-anchor="end">30</text>
<line x1="84.7" y1="1314" x2="99" y2="1314" stroke="#231f20" stroke-width="1.6"/>
<text x="73" y="1322.9" font-size="25" text-anchor="end">40</text>
<rect x="115.1" y="1607.65" width="29.6" height="134.25" fill="#a3a2a7" stroke="#000" stroke-width="2.6"/>
<rect x="115.1" y="1415.63" width="29.6" height="192.02" fill="#55a2fb" stroke="#000" stroke-width="2.6"/>
<rect x="161.7" y="1604.97" width="29.6" height="136.93" fill="#a3a2a7" stroke="#000" stroke-width="2.6"/>
<rect x="161.7" y="1449.86" width="29.6" height="155.11" fill="#55a2fb" stroke="#000" stroke-width="2.6"/>
<rect x="208.3" y="1696.97" width="29.6" height="44.93" fill="#a3a2a7" stroke="#000" stroke-width="2.6"/>
<rect x="208.3" y="1660.6" width="29.6" height="36.37" fill="#55a2fb" stroke="#000" stroke-width="2.6"/>
<rect x="254.9" y="1652.04" width="29.6" height="89.86" fill="#a3a2a7" stroke="#000" stroke-width="2.6"/>
<rect x="254.9" y="1597.48" width="29.6" height="54.56" fill="#55a2fb" stroke="#000" stroke-width="2.6"/>
<rect x="301.5" y="1714.09" width="29.6" height="27.81" fill="#a3a2a7" stroke="#000" stroke-width="2.6"/>
<rect x="301.5" y="1660.06" width="29.6" height="54.02" fill="#55a2fb" stroke="#000" stroke-width="2.6"/>
<rect x="348.1" y="1681.99" width="29.6" height="59.91" fill="#a3a2a7" stroke="#000" stroke-width="2.6"/>
<rect x="348.1" y="1608.18" width="29.6" height="73.81" fill="#55a2fb" stroke="#000" stroke-width="2.6"/>
<rect x="394.7" y="1689.48" width="29.6" height="52.42" fill="#a3a2a7" stroke="#000" stroke-width="2.6"/>
<rect x="394.7" y="1616.74" width="29.6" height="72.74" fill="#55a2fb" stroke="#000" stroke-width="2.6"/>
<rect x="441.3" y="1733.34" width="29.6" height="8.56" fill="#55a2fb" stroke="#000" stroke-width="2.6"/>
<rect x="487.9" y="1705.53" width="29.6" height="36.37" fill="#55a2fb" stroke="#000" stroke-width="2.6"/>
<rect x="534.5" y="1724.78" width="29.6" height="17.12" fill="#55a2fb" stroke="#000" stroke-width="2.6"/>
<rect x="581.1" y="1696.97" width="29.6" height="44.93" fill="#a3a2a7" stroke="#000" stroke-width="2.6"/>
<rect x="581.1" y="1587.86" width="29.6" height="109.11" fill="#55a2fb" stroke="#000" stroke-width="2.6"/>
<rect x="627.7" y="1715.16" width="29.6" height="26.74" fill="#55a2fb" stroke="#000" stroke-width="2.6"/>
<rect x="674.3" y="1696.44" width="29.6" height="45.46" fill="#55a2fb" stroke="#000" stroke-width="2.6"/>
<rect x="720.9" y="1696.97" width="29.6" height="44.93" fill="#a3a2a7" stroke="#000" stroke-width="2.6"/>
<rect x="720.9" y="1587.86" width="29.6" height="109.11" fill="#55a2fb" stroke="#000" stroke-width="2.6"/>
<rect x="814.1" y="1704.99" width="29.6" height="36.91" fill="#a3a2a7" stroke="#000" stroke-width="2.6"/>
<rect x="814.1" y="1669.16" width="29.6" height="35.84" fill="#55a2fb" stroke="#000" stroke-width="2.6"/>
<line x1="84.7" y1="1741.9" x2="860.3" y2="1741.9" stroke="#231f20" stroke-width="1.6"/>
<line x1="129.4" y1="1741.9" x2="129.4" y2="1756" stroke="#231f20" stroke-width="1.6"/>
<line x1="176" y1="1741.9" x2="176" y2="1756" stroke="#231f20" stroke-width="1.6"/>
<line x1="222.6" y1="1741.9" x2="222.6" y2="1756" stroke="#231f20" stroke-width="1.6"/>
<line x1="269.2" y1="1741.9" x2="269.2" y2="1756" stroke="#231f20" stroke-width="1.6"/>
<line x1="315.8" y1="1741.9" x2="315.8" y2="1756" stroke="#231f20" stroke-width="1.6"/>
<line x1="362.4" y1="1741.9" x2="362.4" y2="1756" stroke="#231f20" stroke-width="1.6"/>
<line x1="409" y1="1741.9" x2="409" y2="1756" stroke="#231f20" stroke-width="1.6"/>
<line x1="455.6" y1="1741.9" x2="455.6" y2="1756" stroke="#231f20" stroke-width="1.6"/>
<line x1="502.2" y1="1741.9" x2="502.2" y2="1756" stroke="#231f20" stroke-width="1.6"/>
<line x1="548.8" y1="1741.9" x2="548.8" y2="1756" stroke="#231f20" stroke-width="1.6"/>
<line x1="595.4" y1="1741.9" x2="595.4" y2="1756" stroke="#231f20" stroke-width="1.6"/>
<line x1="642" y1="1741.9" x2="642" y2="1756" stroke="#231f20" stroke-width="1.6"/>
<line x1="688.6" y1="1741.9" x2="688.6" y2="1756" stroke="#231f20" stroke-width="1.6"/>
<line x1="735.2" y1="1741.9" x2="735.2" y2="1756" stroke="#231f20" stroke-width="1.6"/>
<line x1="781.8" y1="1741.9" x2="781.8" y2="1756" stroke="#231f20" stroke-width="1.6"/>
<line x1="828.4" y1="1741.9" x2="828.4" y2="1756" stroke="#231f20" stroke-width="1.6"/>
<text x="137.9" y="1779.5" font-size="25" text-anchor="end" font-style="italic" transform="rotate(-45 137.9 1779.5)">CREBBP</text>
<text x="184.5" y="1779.5" font-size="25" text-anchor="end" font-style="italic" transform="rotate(-45 184.5 1779.5)">SETD2</text>
<text x="231.1" y="1779.5" font-size="25" text-anchor="end" font-style="italic" transform="rotate(-45 231.1 1779.5)">KDM6A</text>
<text x="277.7" y="1779.5" font-size="25" text-anchor="end" font-style="italic" transform="rotate(-45 277.7 1779.5)">IKZF1</text>
<text x="324.3" y="1779.5" font-size="25" text-anchor="end" font-style="italic" transform="rotate(-45 324.3 1779.5)">NT5C2</text>
<text x="370.9" y="1779.5" font-size="25" text-anchor="end" font-style="italic" transform="rotate(-45 370.9 1779.5)">ATF7IP</text>
<text x="417.5" y="1779.5" font-size="25" text-anchor="end" font-style="italic" transform="rotate(-45 417.5 1779.5)">NR3C1</text>
<text x="464.1" y="1779.5" font-size="25" text-anchor="end" font-style="italic" transform="rotate(-45 464.1 1779.5)">KRAS</text>
<text x="510.7" y="1779.5" font-size="25" text-anchor="end" font-style="italic" transform="rotate(-45 510.7 1779.5)">PTPN21</text>
<text x="557.3" y="1779.5" font-size="25" text-anchor="end" font-style="italic" transform="rotate(-45 557.3 1779.5)">BTG1</text>
<text x="603.9" y="1779.5" font-size="25" text-anchor="end" font-style="italic" transform="rotate(-45 603.9 1779.5)">CTCF</text>
<text x="650.5" y="1779.5" font-size="25" text-anchor="end" font-style="italic" transform="rotate(-45 650.5 1779.5)">KDM6B</text>
<text x="697.1" y="1779.5" font-size="25" text-anchor="end" font-style="italic" transform="rotate(-45 697.1 1779.5)">PTPN11</text>
<text x="743.7" y="1779.5" font-size="25" text-anchor="end" font-style="italic" transform="rotate(-45 743.7 1779.5)">NCOR1</text>
<text x="790.3" y="1779.5" font-size="25" text-anchor="end" font-style="italic" transform="rotate(-45 790.3 1779.5)">CDKN2B</text>
<text x="836.9" y="1779.5" font-size="25" text-anchor="end" font-style="italic" transform="rotate(-45 836.9 1779.5)">KMT2D</text>
<text x="478.5" y="1880.3" font-size="25" text-anchor="middle">Relapse-associated genes</text>
<text x="24" y="1528.5" font-size="25" text-anchor="middle" transform="rotate(-90 24 1528.5)">Translocations per 100,000</text>
<text x="407" y="1321" font-size="25"><tspan font-style="italic">P</tspan> = 0.00077</text>
<rect x="664.3" y="1397.7" width="14.7" height="14" fill="#55a2fb" stroke="#000" stroke-width="2"/>
<text x="691" y="1413.4" font-size="25">SJ</text>
<rect x="664.3" y="1438.8" width="14.7" height="14" fill="#a3a2a7" stroke="#000" stroke-width="2"/>
<text x="691" y="1454.2" font-size="25">RSS</text>
<text transform="translate(977.5 23.2) scale(1.07 0.97)" font-size="32.5" font-weight="bold" fill="#000" stroke="#000" stroke-width="1.6" stroke-linejoin="round">d</text>
<line x1="1102.4" y1="24.9" x2="1102.4" y2="156.6" stroke="#231f20" stroke-width="1.6"/>
<line x1="1102.4" y1="196.5" x2="1102.4" y2="328.5" stroke="#231f20" stroke-width="1.6"/>
<line x1="1102.4" y1="368.9" x2="1102.4" y2="500.3" stroke="#231f20" stroke-width="1.6"/>
<line x1="1087.8" y1="24.88" x2="1102.4" y2="24.88" stroke="#231f20" stroke-width="1.6"/>
<text x="1074.8" y="33.18" font-size="25" text-anchor="end">50</text>
<line x1="1087.8" y1="57.81" x2="1102.4" y2="57.81" stroke="#231f20" stroke-width="1.6"/>
<text x="1074.8" y="66.11" font-size="25" text-anchor="end">40</text>
<line x1="1087.8" y1="90.74" x2="1102.4" y2="90.74" stroke="#231f20" stroke-width="1.6"/>
<text x="1074.8" y="99.04" font-size="25" text-anchor="end">30</text>
<line x1="1087.8" y1="123.67" x2="1102.4" y2="123.67" stroke="#231f20" stroke-width="1.6"/>
<text x="1074.8" y="131.97" font-size="25" text-anchor="end">20</text>
<line x1="1087.8" y1="156.6" x2="1115.3" y2="156.6" stroke="#231f20" stroke-width="1.6"/>
<text x="1074.8" y="164.9" font-size="25" text-anchor="end">10</text>
<line x1="1087.8" y1="196.5" x2="1115.3" y2="196.5" stroke="#231f20" stroke-width="1.6"/>
<text x="1074.8" y="204.8" font-size="25" text-anchor="end">5</text>
<line x1="1087.8" y1="229.5" x2="1102.4" y2="229.5" stroke="#231f20" stroke-width="1.6"/>
<text x="1074.8" y="237.8" font-size="25" text-anchor="end">4</text>
<line x1="1087.8" y1="262.5" x2="1102.4" y2="262.5" stroke="#231f20" stroke-width="1.6"/>
<text x="1074.8" y="270.8" font-size="25" text-anchor="end">3</text>
<line x1="1087.8" y1="295.5" x2="1102.4" y2="295.5" stroke="#231f20" stroke-width="1.6"/>
<text x="1074.8" y="303.8" font-size="25" text-anchor="end">2</text>
<line x1="1087.8" y1="328.5" x2="1115.3" y2="328.5" stroke="#231f20" stroke-width="1.6"/>
<text x="1074.8" y="336.8" font-size="25" text-anchor="end">1</text>
<line x1="1087.8" y1="368.9" x2="1115.3" y2="368.9" stroke="#231f20" stroke-width="1.6"/>
<text x="1074.8" y="377.2" font-size="25" text-anchor="end">0.8</text>
<line x1="1087.8" y1="401.75" x2="1102.4" y2="401.75" stroke="#231f20" stroke-width="1.6"/>
<text x="1074.8" y="410.05" font-size="25" text-anchor="end">0.6</text>
<line x1="1087.8" y1="434.6" x2="1102.4" y2="434.6" stroke="#231f20" stroke-width="1.6"/>
<text x="1074.8" y="442.9" font-size="25" text-anchor="end">0.4</text>
<line x1="1087.8" y1="467.45" x2="1102.4" y2="467.45" stroke="#231f20" stroke-width="1.6"/>
<text x="1074.8" y="475.75" font-size="25" text-anchor="end">0.2</text>
<line x1="1087.8" y1="500.3" x2="1102.4" y2="500.3" stroke="#231f20" stroke-width="1.6"/>
<text x="1074.8" y="508.6" font-size="25" text-anchor="end">0</text>
<rect x="1115.15" y="315.5" width="26.5" height="13" fill="#a00000"/>
<rect x="1115.15" y="368.9" width="26.5" height="131.4" fill="#a00000"/>
<rect x="1155.55" y="219.1" width="26.5" height="109.4" fill="#a3a2a7"/>
<rect x="1155.55" y="368.9" width="26.5" height="131.4" fill="#a3a2a7"/>
<rect x="1221.85" y="144.7" width="26.5" height="11.9" fill="#a00000"/>
<rect x="1221.85" y="196.5" width="26.5" height="132" fill="#a00000"/>
<rect x="1221.85" y="368.9" width="26.5" height="131.4" fill="#a00000"/>
<rect x="1262.25" y="87.1" width="26.5" height="69.5" fill="#a3a2a7"/>
<rect x="1262.25" y="196.5" width="26.5" height="132" fill="#a3a2a7"/>
<rect x="1262.25" y="368.9" width="26.5" height="131.4" fill="#a3a2a7"/>
<rect x="1328.55" y="264.4" width="26.5" height="64.1" fill="#a00000"/>
<rect x="1328.55" y="368.9" width="26.5" height="131.4" fill="#a00000"/>
<rect x="1368.95" y="228.8" width="26.5" height="99.7" fill="#a3a2a7"/>
<rect x="1368.95" y="368.9" width="26.5" height="131.4" fill="#a3a2a7"/>
<rect x="1435.25" y="112.3" width="26.5" height="44.3" fill="#a00000"/>
<rect x="1435.25" y="196.5" width="26.5" height="132" fill="#a00000"/>
<rect x="1435.25" y="368.9" width="26.5" height="131.4" fill="#a00000"/>
<rect x="1475.65" y="49.2" width="26.5" height="107.4" fill="#a3a2a7"/>
<rect x="1475.65" y="196.5" width="26.5" height="132" fill="#a3a2a7"/>
<rect x="1475.65" y="368.9" width="26.5" height="131.4" fill="#a3a2a7"/>
<rect x="1541.95" y="487" width="26.5" height="13.3" fill="#a00000"/>
<rect x="1582.35" y="369" width="26.5" height="131.3" fill="#a3a2a7"/>
<rect x="1648.65" y="496.8" width="26.5" height="3.5" fill="#a00000"/>
<rect x="1689.05" y="426.6" width="26.5" height="73.7" fill="#a3a2a7"/>
<rect x="1755.35" y="494.2" width="26.5" height="6.1" fill="#a00000"/>
<rect x="1795.75" y="476.4" width="26.5" height="23.9" fill="#a3a2a7"/>
<rect x="1862.05" y="494.5" width="26.5" height="5.8" fill="#a00000"/>
<rect x="1902.45" y="424.6" width="26.5" height="75.7" fill="#a3a2a7"/>
<rect x="1968.75" y="489.7" width="26.5" height="10.6" fill="#a00000"/>
<rect x="2009.15" y="457.9" width="26.5" height="42.4" fill="#a3a2a7"/>
<rect x="2075.45" y="487.1" width="26.5" height="13.2" fill="#a00000"/>
<rect x="2115.85" y="448.5" width="26.5" height="51.8" fill="#a3a2a7"/>
<circle cx="1122.1" cy="315.5" r="5.9" fill="#000"/>
<circle cx="1128.6" cy="305.5" r="5.9" fill="#000"/>
<circle cx="1135.1" cy="325.2" r="5.9" fill="#000"/>
<circle cx="1169.1" cy="196.8" r="5.9" fill="#000"/>
<circle cx="1169.1" cy="220.1" r="5.9" fill="#000"/>
<circle cx="1169.1" cy="240.1" r="5.9" fill="#000"/>
<circle cx="1228.6" cy="146.6" r="5.9" fill="#000"/>
<circle cx="1235.4" cy="135.3" r="5.9" fill="#000"/>
<circle cx="1242.5" cy="151.5" r="5.9" fill="#000"/>
<circle cx="1274.9" cy="51.8" r="5.9" fill="#000"/>
<circle cx="1269.1" cy="101.9" r="5.9" fill="#000"/>
<circle cx="1282" cy="106.1" r="5.9" fill="#000"/>
<circle cx="1335.4" cy="245" r="5.9" fill="#000"/>
<circle cx="1348.7" cy="259.5" r="5.9" fill="#000"/>
<circle cx="1342.2" cy="288.7" r="5.9" fill="#000"/>
<circle cx="1382.3" cy="203.9" r="5.9" fill="#000"/>
<circle cx="1382.3" cy="227.2" r="5.9" fill="#000"/>
<circle cx="1382.3" cy="255.7" r="5.9" fill="#000"/>
<circle cx="1442.2" cy="112.3" r="5.9" fill="#000"/>
<circle cx="1448.7" cy="112.3" r="5.9" fill="#000"/>
<circle cx="1455.1" cy="112.3" r="5.9" fill="#000"/>
<circle cx="1482" cy="48.5" r="5.9" fill="#000"/>
<circle cx="1488.5" cy="48.5" r="5.9" fill="#000"/>
<circle cx="1495.6" cy="48.5" r="5.9" fill="#000"/>
<circle cx="1548.7" cy="484.5" r="5.9" fill="#000"/>
<circle cx="1555.2" cy="488.7" r="5.9" fill="#000"/>
<circle cx="1562" cy="489.7" r="5.9" fill="#000"/>
<circle cx="1595" cy="325.9" r="5.9" fill="#000"/>
<circle cx="1595" cy="373.2" r="5.9" fill="#000"/>
<circle cx="1595" cy="405.5" r="5.9" fill="#000"/>
<circle cx="1654.9" cy="495.2" r="5.9" fill="#000"/>
<circle cx="1662" cy="495.8" r="5.9" fill="#000"/>
<circle cx="1668.5" cy="500" r="5.9" fill="#000"/>
<circle cx="1701.8" cy="393.2" r="5.9" fill="#000"/>
<circle cx="1701.8" cy="427.2" r="5.9" fill="#000"/>
<circle cx="1701.8" cy="459.6" r="5.9" fill="#000"/>
<circle cx="1761.7" cy="488" r="5.9" fill="#000"/>
<circle cx="1768.2" cy="493.5" r="5.9" fill="#000"/>
<circle cx="1775.3" cy="499.4" r="5.9" fill="#000"/>
<circle cx="1802.2" cy="474.1" r="5.9" fill="#000"/>
<circle cx="1808.6" cy="476.4" r="5.9" fill="#000"/>
<circle cx="1815.7" cy="476.7" r="5.9" fill="#000"/>
<circle cx="1868.5" cy="491" r="5.9" fill="#000"/>
<circle cx="1875.6" cy="495.2" r="5.9" fill="#000"/>
<circle cx="1882.1" cy="497.8" r="5.9" fill="#000"/>
<circle cx="1914.8" cy="398.7" r="5.9" fill="#000"/>
<circle cx="1914.8" cy="421.4" r="5.9" fill="#000"/>
<circle cx="1914.8" cy="454.7" r="5.9" fill="#000"/>
<circle cx="1975.3" cy="487.1" r="5.9" fill="#000"/>
<circle cx="1981.8" cy="488.7" r="5.9" fill="#000"/>
<circle cx="1988.9" cy="491.9" r="5.9" fill="#000"/>
<circle cx="2021.6" cy="444.3" r="5.9" fill="#000"/>
<circle cx="2015.1" cy="459.5" r="5.9" fill="#000"/>
<circle cx="2028.7" cy="470.2" r="5.9" fill="#000"/>
<circle cx="2088.2" cy="475.7" r="5.9" fill="#000"/>
<circle cx="2082.1" cy="488" r="5.9" fill="#000"/>
<circle cx="2095" cy="496.1" r="5.9" fill="#000"/>
<circle cx="2128.4" cy="413.6" r="5.9" fill="#000"/>
<circle cx="2128.4" cy="442.7" r="5.9" fill="#000"/>
<circle cx="2128.4" cy="490.3" r="5.9" fill="#000"/>
<line x1="1087.8" y1="500.3" x2="2160" y2="500.3" stroke="#231f20" stroke-width="1.6"/>
<line x1="1147.7" y1="500.3" x2="1147.7" y2="514.6" stroke="#231f20" stroke-width="1.6"/>
<line x1="1254.4" y1="500.3" x2="1254.4" y2="514.6" stroke="#231f20" stroke-width="1.6"/>
<line x1="1361.1" y1="500.3" x2="1361.1" y2="514.6" stroke="#231f20" stroke-width="1.6"/>
<line x1="1467.8" y1="500.3" x2="1467.8" y2="514.6" stroke="#231f20" stroke-width="1.6"/>
<line x1="1574.5" y1="500.3" x2="1574.5" y2="514.6" stroke="#231f20" stroke-width="1.6"/>
<line x1="1681.2" y1="500.3" x2="1681.2" y2="514.6" stroke="#231f20" stroke-width="1.6"/>
<line x1="1787.9" y1="500.3" x2="1787.9" y2="514.6" stroke="#231f20" stroke-width="1.6"/>
<line x1="1894.6" y1="500.3" x2="1894.6" y2="514.6" stroke="#231f20" stroke-width="1.6"/>
<line x1="2001.3" y1="500.3" x2="2001.3" y2="514.6" stroke="#231f20" stroke-width="1.6"/>
<line x1="2108" y1="500.3" x2="2108" y2="514.6" stroke="#231f20" stroke-width="1.6"/>
<text x="1013.4" y="538.8" font-size="25">Events</text>
<text x="1013.4" y="577" font-size="25">Patient ID</text>
<text x="1149.2" y="536.8" font-size="17" text-anchor="middle">LV3-16-LJ2</text>
<text x="1153.7" y="577" font-size="25" text-anchor="middle">R-8</text>
<text x="1255.9" y="536.8" font-size="17" text-anchor="middle">LV3-12-LJ2</text>
<text x="1260.4" y="577" font-size="25" text-anchor="middle">R-8</text>
<text x="1362.6" y="536.8" font-size="17" text-anchor="middle">LV2-14-LJ2</text>
<text x="1367.1" y="577" font-size="25" text-anchor="middle">R-8</text>
<text x="1469.3" y="536.8" font-size="17" text-anchor="middle">KV2-28-KDE</text>
<text x="1473.8" y="577" font-size="25" text-anchor="middle">R-7</text>
<text x="1576" y="536.8" font-size="17" text-anchor="middle">LV3-1-LJ2</text>
<text x="1580.5" y="577" font-size="25" text-anchor="middle">R-32</text>
<text x="1682.7" y="536.8" font-size="17" text-anchor="middle">LV3-12-LJ2</text>
<text x="1687.2" y="577" font-size="25" text-anchor="middle">R-32</text>
<text x="1789.4" y="536.8" font-size="17" text-anchor="middle">LV2-5-LJ2</text>
<text x="1793.9" y="577" font-size="25" text-anchor="middle">R-32</text>
<text x="1896.1" y="536.8" font-size="17" text-anchor="middle">LV3-10-LJ2</text>
<text x="1900.6" y="577" font-size="25" text-anchor="middle">R-32</text>
<text x="2002.8" y="536.8" font-size="17" text-anchor="middle">LV3-10-LJ2</text>
<text x="2007.3" y="577" font-size="25" text-anchor="middle">R-1</text>
<text x="2109.5" y="536.8" font-size="17" text-anchor="middle">LV3-1-LJ2</text>
<text x="2114" y="577" font-size="25" text-anchor="middle">R-1</text>
<text x="1016.5" y="262" font-size="25" text-anchor="middle" transform="rotate(-90 1016.5 262)">Rec/<tspan font-style="italic">GAPDH</tspan> ratio (%)</text>
<rect x="1983.6" y="143.6" width="15.6" height="14.6" fill="#a00000"/>
<text x="2011" y="158.8" font-size="25">Diagnosis</text>
<rect x="1983.6" y="174.6" width="15.6" height="14.6" fill="#a3a2a7"/>
<text x="2011" y="189.8" font-size="25">Relapse</text>
<text transform="translate(977.3 632.8) scale(1.07 0.97)" font-size="32.5" font-weight="bold" fill="#000" stroke="#000" stroke-width="1.6" stroke-linejoin="round">e</text>
<line x1="1103.2" y1="666.4" x2="1103.2" y2="825" stroke="#231f20" stroke-width="1.6"/>
<line x1="1103.2" y1="865.4" x2="1103.2" y2="1022.5" stroke="#231f20" stroke-width="1.6"/>
<line x1="1103.2" y1="1063.2" x2="1103.2" y2="1141.8" stroke="#231f20" stroke-width="1.6"/>
<line x1="1089.3" y1="666.4" x2="1103.2" y2="666.4" stroke="#231f20" stroke-width="1.6"/>
<text x="1076.3" y="674.7" font-size="25" text-anchor="end">0.7</text>
<line x1="1089.3" y1="698.12" x2="1103.2" y2="698.12" stroke="#231f20" stroke-width="1.6"/>
<text x="1076.3" y="706.42" font-size="25" text-anchor="end">0.6</text>
<line x1="1089.3" y1="729.84" x2="1103.2" y2="729.84" stroke="#231f20" stroke-width="1.6"/>
<text x="1076.3" y="738.14" font-size="25" text-anchor="end">0.5</text>
<line x1="1089.3" y1="761.56" x2="1103.2" y2="761.56" stroke="#231f20" stroke-width="1.6"/>
<text x="1076.3" y="769.86" font-size="25" text-anchor="end">0.4</text>
<line x1="1089.3" y1="793.28" x2="1103.2" y2="793.28" stroke="#231f20" stroke-width="1.6"/>
<text x="1076.3" y="801.58" font-size="25" text-anchor="end">0.3</text>
<line x1="1089.3" y1="825" x2="1116.4" y2="825" stroke="#231f20" stroke-width="1.6"/>
<text x="1076.3" y="833.3" font-size="25" text-anchor="end">0.2</text>
<line x1="1089.3" y1="865.4" x2="1116.4" y2="865.4" stroke="#231f20" stroke-width="1.6"/>
<text x="1076.3" y="873.7" font-size="25" text-anchor="end">0.16</text>
<line x1="1089.3" y1="917.77" x2="1103.2" y2="917.77" stroke="#231f20" stroke-width="1.6"/>
<text x="1076.3" y="926.07" font-size="25" text-anchor="end">0.11</text>
<line x1="1089.3" y1="970.13" x2="1103.2" y2="970.13" stroke="#231f20" stroke-width="1.6"/>
<text x="1076.3" y="978.43" font-size="25" text-anchor="end">0.06</text>
<line x1="1089.3" y1="1022.5" x2="1116.4" y2="1022.5" stroke="#231f20" stroke-width="1.6"/>
<text x="1076.3" y="1030.8" font-size="25" text-anchor="end">0.01</text>
<line x1="1089.3" y1="1063.2" x2="1116.4" y2="1063.2" stroke="#231f20" stroke-width="1.6"/>
<text x="1076.3" y="1071.5" font-size="25" text-anchor="end">0.010</text>
<line x1="1089.3" y1="1102.5" x2="1103.2" y2="1102.5" stroke="#231f20" stroke-width="1.6"/>
<text x="1076.3" y="1110.8" font-size="25" text-anchor="end">0.005</text>
<line x1="1089.3" y1="1141.8" x2="1103.2" y2="1141.8" stroke="#231f20" stroke-width="1.6"/>
<text x="1076.3" y="1150.1" font-size="25" text-anchor="end">0</text>
<rect x="1116.75" y="919.6" width="26.5" height="102.9" fill="#a00000"/>
<rect x="1116.75" y="1063.2" width="26.5" height="78.6" fill="#a00000"/>
<rect x="1157.15" y="917.1" width="26.5" height="105.4" fill="#a3a2a7"/>
<rect x="1157.15" y="1063.2" width="26.5" height="78.6" fill="#a3a2a7"/>
<rect x="1223.45" y="726.8" width="26.5" height="98.2" fill="#a00000"/>
<rect x="1223.45" y="865.4" width="26.5" height="157.1" fill="#a00000"/>
<rect x="1223.45" y="1063.2" width="26.5" height="78.6" fill="#a00000"/>
<rect x="1263.85" y="776.4" width="26.5" height="48.6" fill="#a3a2a7"/>
<rect x="1263.85" y="865.4" width="26.5" height="157.1" fill="#a3a2a7"/>
<rect x="1263.85" y="1063.2" width="26.5" height="78.6" fill="#a3a2a7"/>
<rect x="1330.15" y="782.9" width="26.5" height="42.1" fill="#a00000"/>
<rect x="1330.15" y="865.4" width="26.5" height="157.1" fill="#a00000"/>
<rect x="1330.15" y="1063.2" width="26.5" height="78.6" fill="#a00000"/>
<rect x="1370.55" y="795.4" width="26.5" height="29.6" fill="#a3a2a7"/>
<rect x="1370.55" y="865.4" width="26.5" height="157.1" fill="#a3a2a7"/>
<rect x="1370.55" y="1063.2" width="26.5" height="78.6" fill="#a3a2a7"/>
<rect x="1436.85" y="1090.4" width="26.5" height="51.4" fill="#a00000"/>
<rect x="1477.25" y="1018" width="26.5" height="4.5" fill="#a3a2a7"/>
<rect x="1477.25" y="1063.2" width="26.5" height="78.6" fill="#a3a2a7"/>
<rect x="1543.55" y="1000" width="26.5" height="22.5" fill="#a00000"/>
<rect x="1543.55" y="1063.2" width="26.5" height="78.6" fill="#a00000"/>
<rect x="1583.95" y="900.7" width="26.5" height="121.8" fill="#a3a2a7"/>
<rect x="1583.95" y="1063.2" width="26.5" height="78.6" fill="#a3a2a7"/>
<rect x="1650.25" y="1106" width="26.5" height="35.8" fill="#a00000"/>
<rect x="1690.65" y="1000.7" width="26.5" height="21.8" fill="#a3a2a7"/>
<rect x="1690.65" y="1063.2" width="26.5" height="78.6" fill="#a3a2a7"/>
<rect x="1756.95" y="1019.8" width="26.5" height="2.7" fill="#a00000"/>
<rect x="1756.95" y="1063.2" width="26.5" height="78.6" fill="#a00000"/>
<rect x="1797.35" y="984.3" width="26.5" height="38.2" fill="#a3a2a7"/>
<rect x="1797.35" y="1063.2" width="26.5" height="78.6" fill="#a3a2a7"/>
<rect x="1863.65" y="1082.9" width="26.5" height="58.9" fill="#a00000"/>
<rect x="1904.05" y="988.6" width="26.5" height="33.9" fill="#a3a2a7"/>
<rect x="1904.05" y="1063.2" width="26.5" height="78.6" fill="#a3a2a7"/>
<rect x="1970.35" y="1063.2" width="26.5" height="78.6" fill="#a00000"/>
<rect x="2010.75" y="1072.9" width="26.5" height="68.9" fill="#a3a2a7"/>
<rect x="2077.05" y="1007.1" width="26.5" height="15.4" fill="#a00000"/>
<rect x="2077.05" y="1063.2" width="26.5" height="78.6" fill="#a00000"/>
<rect x="2117.45" y="969.6" width="26.5" height="52.9" fill="#a3a2a7"/>
<rect x="2117.45" y="1063.2" width="26.5" height="78.6" fill="#a3a2a7"/>
<circle cx="1129.6" cy="896.8" r="5.9" fill="#000"/>
<circle cx="1123.2" cy="927.9" r="5.9" fill="#000"/>
<circle cx="1136.4" cy="933.9" r="5.9" fill="#000"/>
<circle cx="1170" cy="886.1" r="5.9" fill="#000"/>
<circle cx="1163.6" cy="927.9" r="5.9" fill="#000"/>
<circle cx="1176.8" cy="937.5" r="5.9" fill="#000"/>
<circle cx="1236.8" cy="697.9" r="5.9" fill="#000"/>
<circle cx="1236.8" cy="727.1" r="5.9" fill="#000"/>
<circle cx="1236.8" cy="755.7" r="5.9" fill="#000"/>
<circle cx="1270.4" cy="752.1" r="5.9" fill="#000"/>
<circle cx="1283.2" cy="765" r="5.9" fill="#000"/>
<circle cx="1276.4" cy="812.5" r="5.9" fill="#000"/>
<circle cx="1343.2" cy="742.5" r="5.9" fill="#000"/>
<circle cx="1343.2" cy="787.1" r="5.9" fill="#000"/>
<circle cx="1343.2" cy="818.6" r="5.9" fill="#000"/>
<circle cx="1383.6" cy="761.8" r="5.9" fill="#000"/>
<circle cx="1377.1" cy="809.3" r="5.9" fill="#000"/>
<circle cx="1390.7" cy="815.7" r="5.9" fill="#000"/>
<circle cx="1443.2" cy="1076.4" r="5.9" fill="#000"/>
<circle cx="1456.4" cy="1079.3" r="5.9" fill="#000"/>
<circle cx="1450" cy="1114.3" r="5.9" fill="#000"/>
<circle cx="1483.9" cy="1008.6" r="5.9" fill="#000"/>
<circle cx="1496.4" cy="1021.8" r="5.9" fill="#000"/>
<circle cx="1490.4" cy="1065.7" r="5.9" fill="#000"/>
<circle cx="1556" cy="974.3" r="5.9" fill="#000"/>
<circle cx="1550" cy="1008.2" r="5.9" fill="#000"/>
<circle cx="1563.2" cy="1017.9" r="5.9" fill="#000"/>
<circle cx="1590" cy="895.7" r="5.9" fill="#000"/>
<circle cx="1596.4" cy="898.2" r="5.9" fill="#000"/>
<circle cx="1603.2" cy="907.9" r="5.9" fill="#000"/>
<circle cx="1662.9" cy="1082.9" r="5.9" fill="#000"/>
<circle cx="1656.8" cy="1115" r="5.9" fill="#000"/>
<circle cx="1669.6" cy="1119.6" r="5.9" fill="#000"/>
<circle cx="1696" cy="996.4" r="5.9" fill="#000"/>
<circle cx="1703.6" cy="997.1" r="5.9" fill="#000"/>
<circle cx="1710" cy="1007.1" r="5.9" fill="#000"/>
<circle cx="1763.2" cy="1009.6" r="5.9" fill="#000"/>
<circle cx="1776.1" cy="1022.5" r="5.9" fill="#000"/>
<circle cx="1769.6" cy="1097.5" r="5.9" fill="#000"/>
<circle cx="1810" cy="966.1" r="5.9" fill="#000"/>
<circle cx="1803.6" cy="992.9" r="5.9" fill="#000"/>
<circle cx="1816.4" cy="995" r="5.9" fill="#000"/>
<circle cx="1876.1" cy="1020.4" r="5.9" fill="#000"/>
<circle cx="1876.1" cy="1092.9" r="5.9" fill="#000"/>
<circle cx="1876.1" cy="1111.4" r="5.9" fill="#000"/>
<circle cx="1916.1" cy="980.4" r="5.9" fill="#000"/>
<circle cx="1910.4" cy="988.6" r="5.9" fill="#000"/>
<circle cx="1922.9" cy="997.1" r="5.9" fill="#000"/>
<circle cx="1982.9" cy="1011.8" r="5.9" fill="#000"/>
<circle cx="1982.9" cy="1081.4" r="5.9" fill="#000"/>
<circle cx="1982.9" cy="1121.8" r="5.9" fill="#000"/>
<circle cx="2016.4" cy="1018.9" r="5.9" fill="#000"/>
<circle cx="2029.6" cy="1022.1" r="5.9" fill="#000"/>
<circle cx="2022.9" cy="1123.2" r="5.9" fill="#000"/>
<circle cx="2089.6" cy="982.5" r="5.9" fill="#000"/>
<circle cx="2083.2" cy="1017.9" r="5.9" fill="#000"/>
<circle cx="2096.1" cy="1021.4" r="5.9" fill="#000"/>
<circle cx="2130" cy="898.2" r="5.9" fill="#000"/>
<circle cx="2123.6" cy="1005" r="5.9" fill="#000"/>
<circle cx="2136.4" cy="1005" r="5.9" fill="#000"/>
<line x1="1089.3" y1="1141.8" x2="2161.4" y2="1141.8" stroke="#231f20" stroke-width="1.6"/>
<line x1="1149.3" y1="1141.8" x2="1149.3" y2="1156" stroke="#231f20" stroke-width="1.6"/>
<line x1="1256" y1="1141.8" x2="1256" y2="1156" stroke="#231f20" stroke-width="1.6"/>
<line x1="1362.7" y1="1141.8" x2="1362.7" y2="1156" stroke="#231f20" stroke-width="1.6"/>
<line x1="1469.4" y1="1141.8" x2="1469.4" y2="1156" stroke="#231f20" stroke-width="1.6"/>
<line x1="1576.1" y1="1141.8" x2="1576.1" y2="1156" stroke="#231f20" stroke-width="1.6"/>
<line x1="1682.8" y1="1141.8" x2="1682.8" y2="1156" stroke="#231f20" stroke-width="1.6"/>
<line x1="1789.5" y1="1141.8" x2="1789.5" y2="1156" stroke="#231f20" stroke-width="1.6"/>
<line x1="1896.2" y1="1141.8" x2="1896.2" y2="1156" stroke="#231f20" stroke-width="1.6"/>
<line x1="2002.9" y1="1141.8" x2="2002.9" y2="1156" stroke="#231f20" stroke-width="1.6"/>
<line x1="2109.6" y1="1141.8" x2="2109.6" y2="1156" stroke="#231f20" stroke-width="1.6"/>
<text x="996" y="1183.9" font-size="25">Events</text>
<text x="996" y="1222.8" font-size="25">Patient ID</text>
<text x="1149.3" y="1181.9" font-size="17" text-anchor="middle">LV3-16-LJ2</text>
<text x="1149.3" y="1222.8" font-size="25" text-anchor="middle">R-8</text>
<text x="1256" y="1181.9" font-size="17" text-anchor="middle">LV3-12-LJ2</text>
<text x="1256" y="1222.8" font-size="25" text-anchor="middle">R-8</text>
<text x="1362.7" y="1181.9" font-size="17" text-anchor="middle">LV2-14-LJ2</text>
<text x="1362.7" y="1222.8" font-size="25" text-anchor="middle">R-8</text>
<text x="1469.4" y="1181.9" font-size="17" text-anchor="middle">KV2-28-KDE</text>
<text x="1469.4" y="1222.8" font-size="25" text-anchor="middle">R-7</text>
<text x="1576.1" y="1181.9" font-size="17" text-anchor="middle">LV3-1-LJ2</text>
<text x="1576.1" y="1222.8" font-size="25" text-anchor="middle">R-32</text>
<text x="1682.8" y="1181.9" font-size="17" text-anchor="middle">LV3-12-LJ2</text>
<text x="1682.8" y="1222.8" font-size="25" text-anchor="middle">R-32</text>
<text x="1789.5" y="1181.9" font-size="17" text-anchor="middle">LV2-5-LJ2</text>
<text x="1789.5" y="1222.8" font-size="25" text-anchor="middle">R-32</text>
<text x="1896.2" y="1181.9" font-size="17" text-anchor="middle">LV3-10-LJ2</text>
<text x="1896.2" y="1222.8" font-size="25" text-anchor="middle">R-32</text>
<text x="2002.9" y="1181.9" font-size="17" text-anchor="middle">LV3-10-LJ2</text>
<text x="2002.9" y="1222.8" font-size="25" text-anchor="middle">R-1</text>
<text x="2109.6" y="1181.9" font-size="17" text-anchor="middle">LV3-1-LJ2</text>
<text x="2109.6" y="1222.8" font-size="25" text-anchor="middle">R-1</text>
<text x="997" y="905" font-size="25" text-anchor="middle" transform="rotate(-90 997 905)">SJ/<tspan font-style="italic">GAPDH</tspan> ratio (%)</text>
<rect x="1994.5" y="721.4" width="15.6" height="14.6" fill="#a00000"/>
<text x="2022" y="736.6" font-size="25">Diagnosis</text>
<rect x="1994.5" y="752.5" width="15.6" height="14.6" fill="#a3a2a7"/>
<text x="2022" y="767.7" font-size="25">Relapse</text>
<text transform="translate(977.7 1298.1) scale(1.07 0.97)" font-size="32.5" font-weight="bold" fill="#000" stroke="#000" stroke-width="1.6" stroke-linejoin="round">f</text>
<line x1="1105.1" y1="1302.6" x2="1105.1" y2="1777.6" stroke="#231f20" stroke-width="1.6"/>
<line x1="1091.8" y1="1777.6" x2="1105.1" y2="1777.6" stroke="#231f20" stroke-width="1.6"/>
<text x="1079" y="1786.1" font-size="25" text-anchor="end">0</text>
<line x1="1091.8" y1="1682.6" x2="1105.1" y2="1682.6" stroke="#231f20" stroke-width="1.6"/>
<text x="1079" y="1691.1" font-size="25" text-anchor="end">1</text>
<line x1="1091.8" y1="1587.6" x2="1105.1" y2="1587.6" stroke="#231f20" stroke-width="1.6"/>
<text x="1079" y="1596.1" font-size="25" text-anchor="end">2</text>
<line x1="1091.8" y1="1492.6" x2="1105.1" y2="1492.6" stroke="#231f20" stroke-width="1.6"/>
<text x="1079" y="1501.1" font-size="25" text-anchor="end">3</text>
<line x1="1091.8" y1="1397.6" x2="1105.1" y2="1397.6" stroke="#231f20" stroke-width="1.6"/>
<text x="1079" y="1406.1" font-size="25" text-anchor="end">4</text>
<line x1="1091.8" y1="1302.6" x2="1105.1" y2="1302.6" stroke="#231f20" stroke-width="1.6"/>
<text x="1079" y="1311.1" font-size="25" text-anchor="end">5</text>
<line x1="1091.8" y1="1777.6" x2="2165" y2="1777.6" stroke="#231f20" stroke-width="1.6"/>
<line x1="1145.6" y1="1777.6" x2="1145.6" y2="1792.6" stroke="#231f20" stroke-width="1.6"/>
<line x1="1206.45" y1="1777.6" x2="1206.45" y2="1792.6" stroke="#231f20" stroke-width="1.6"/>
<line x1="1267.3" y1="1777.6" x2="1267.3" y2="1792.6" stroke="#231f20" stroke-width="1.6"/>
<line x1="1328.15" y1="1777.6" x2="1328.15" y2="1792.6" stroke="#231f20" stroke-width="1.6"/>
<line x1="1389" y1="1777.6" x2="1389" y2="1792.6" stroke="#231f20" stroke-width="1.6"/>
<line x1="1449.85" y1="1777.6" x2="1449.85" y2="1792.6" stroke="#231f20" stroke-width="1.6"/>
<line x1="1510.7" y1="1777.6" x2="1510.7" y2="1792.6" stroke="#231f20" stroke-width="1.6"/>
<line x1="1571.55" y1="1777.6" x2="1571.55" y2="1792.6" stroke="#231f20" stroke-width="1.6"/>
<line x1="1632.4" y1="1777.6" x2="1632.4" y2="1792.6" stroke="#231f20" stroke-width="1.6"/>
<line x1="1693.25" y1="1777.6" x2="1693.25" y2="1792.6" stroke="#231f20" stroke-width="1.6"/>
<line x1="1754.1" y1="1777.6" x2="1754.1" y2="1792.6" stroke="#231f20" stroke-width="1.6"/>
<line x1="1814.95" y1="1777.6" x2="1814.95" y2="1792.6" stroke="#231f20" stroke-width="1.6"/>
<line x1="1875.8" y1="1777.6" x2="1875.8" y2="1792.6" stroke="#231f20" stroke-width="1.6"/>
<line x1="1936.65" y1="1777.6" x2="1936.65" y2="1792.6" stroke="#231f20" stroke-width="1.6"/>
<line x1="1997.5" y1="1777.6" x2="1997.5" y2="1792.6" stroke="#231f20" stroke-width="1.6"/>
<line x1="2058.35" y1="1777.6" x2="2058.35" y2="1792.6" stroke="#231f20" stroke-width="1.6"/>
<line x1="2119.2" y1="1777.6" x2="2119.2" y2="1792.6" stroke="#231f20" stroke-width="1.6"/>
<circle cx="1135.4" cy="1755.75" r="8.3" fill="#9c0000"/>
<circle cx="1155.7" cy="1755.75" r="8.3" fill="#9c0000"/>
<circle cx="1206.6" cy="1692.1" r="8.3" fill="#9c0000"/>
<circle cx="1206.6" cy="1720.6" r="8.3" fill="#9c0000"/>
<circle cx="1212.9" cy="1749.1" r="8.3" fill="#9c0000"/>
<circle cx="1196" cy="1763.82" r="8.3" fill="#9c0000"/>
<circle cx="1201.25" cy="1763.82" r="8.3" fill="#9c0000"/>
<circle cx="1206.5" cy="1763.82" r="8.3" fill="#9c0000"/>
<circle cx="1211.75" cy="1763.82" r="8.3" fill="#9c0000"/>
<circle cx="1217" cy="1763.82" r="8.3" fill="#9c0000"/>
<circle cx="1270.8" cy="1725.35" r="8.3" fill="#9c0000"/>
<circle cx="1263.8" cy="1737.7" r="8.3" fill="#9c0000"/>
<circle cx="1257.2" cy="1764.77" r="8.3" fill="#9c0000"/>
<circle cx="1262.25" cy="1764.77" r="8.3" fill="#9c0000"/>
<circle cx="1267.3" cy="1764.77" r="8.3" fill="#9c0000"/>
<circle cx="1272.35" cy="1764.77" r="8.3" fill="#9c0000"/>
<circle cx="1277.4" cy="1764.77" r="8.3" fill="#9c0000"/>
<circle cx="1328.3" cy="1682.6" r="8.3" fill="#9c0000"/>
<circle cx="1328.3" cy="1736.75" r="8.3" fill="#9c0000"/>
<circle cx="1318.2" cy="1764.77" r="8.3" fill="#9c0000"/>
<circle cx="1323.25" cy="1764.77" r="8.3" fill="#9c0000"/>
<circle cx="1328.3" cy="1764.77" r="8.3" fill="#9c0000"/>
<circle cx="1333.35" cy="1764.77" r="8.3" fill="#9c0000"/>
<circle cx="1338.4" cy="1764.77" r="8.3" fill="#9c0000"/>
<circle cx="1389" cy="1716.32" r="8.3" fill="#9c0000"/>
<circle cx="1386.5" cy="1741.02" r="8.3" fill="#9c0000"/>
<circle cx="1392" cy="1741.02" r="8.3" fill="#9c0000"/>
<circle cx="1378.6" cy="1766.2" r="8.3" fill="#9c0000"/>
<circle cx="1383.82" cy="1766.2" r="8.3" fill="#9c0000"/>
<circle cx="1389.05" cy="1766.2" r="8.3" fill="#9c0000"/>
<circle cx="1394.28" cy="1766.2" r="8.3" fill="#9c0000"/>
<circle cx="1399.5" cy="1766.2" r="8.3" fill="#9c0000"/>
<circle cx="1450" cy="1647.45" r="8.3" fill="#9c0000"/>
<circle cx="1448.5" cy="1679.75" r="8.3" fill="#9c0000"/>
<circle cx="1451.5" cy="1679.75" r="8.3" fill="#9c0000"/>
<circle cx="1450" cy="1712.05" r="8.3" fill="#9c0000"/>
<circle cx="1439.6" cy="1744.35" r="8.3" fill="#9c0000"/>
<circle cx="1444.82" cy="1744.35" r="8.3" fill="#9c0000"/>
<circle cx="1450.05" cy="1744.35" r="8.3" fill="#9c0000"/>
<circle cx="1455.28" cy="1744.35" r="8.3" fill="#9c0000"/>
<circle cx="1460.5" cy="1744.35" r="8.3" fill="#9c0000"/>
<circle cx="1511.1" cy="1359.6" r="8.3" fill="#9c0000"/>
<circle cx="1511.1" cy="1511.6" r="8.3" fill="#9c0000"/>
<circle cx="1511.1" cy="1673.1" r="8.3" fill="#9c0000"/>
<circle cx="1511.1" cy="1739.6" r="8.3" fill="#9c0000"/>
<circle cx="1514.6" cy="1749.1" r="8.3" fill="#9c0000"/>
<circle cx="1501" cy="1758.6" r="8.3" fill="#9c0000"/>
<circle cx="1507.83" cy="1758.6" r="8.3" fill="#9c0000"/>
<circle cx="1514.67" cy="1758.6" r="8.3" fill="#9c0000"/>
<circle cx="1521.5" cy="1758.6" r="8.3" fill="#9c0000"/>
<circle cx="1501" cy="1768.1" r="8.3" fill="#9c0000"/>
<circle cx="1506.12" cy="1768.1" r="8.3" fill="#9c0000"/>
<circle cx="1511.25" cy="1768.1" r="8.3" fill="#9c0000"/>
<circle cx="1516.38" cy="1768.1" r="8.3" fill="#9c0000"/>
<circle cx="1521.5" cy="1768.1" r="8.3" fill="#9c0000"/>
<circle cx="1506" cy="1763.35" r="8.3" fill="#9c0000"/>
<circle cx="1516" cy="1763.35" r="8.3" fill="#9c0000"/>
<circle cx="1566.9" cy="1757.65" r="8.3" fill="#9c0000"/>
<circle cx="1561" cy="1768.1" r="8.3" fill="#9c0000"/>
<circle cx="1566.38" cy="1768.1" r="8.3" fill="#9c0000"/>
<circle cx="1571.75" cy="1768.1" r="8.3" fill="#9c0000"/>
<circle cx="1577.12" cy="1768.1" r="8.3" fill="#9c0000"/>
<circle cx="1582.5" cy="1768.1" r="8.3" fill="#9c0000"/>
<circle cx="1632.4" cy="1680.7" r="8.3" fill="#9c0000"/>
<circle cx="1632.4" cy="1712.05" r="8.3" fill="#9c0000"/>
<circle cx="1621.3" cy="1744.35" r="8.3" fill="#9c0000"/>
<circle cx="1632.45" cy="1744.35" r="8.3" fill="#9c0000"/>
<circle cx="1643.6" cy="1744.35" r="8.3" fill="#9c0000"/>
<circle cx="1693.5" cy="1523.95" r="8.3" fill="#9c0000"/>
<circle cx="1693.5" cy="1730.1" r="8.3" fill="#9c0000"/>
<circle cx="1691" cy="1746.25" r="8.3" fill="#9c0000"/>
<circle cx="1683" cy="1762.4" r="8.3" fill="#9c0000"/>
<circle cx="1688.22" cy="1762.4" r="8.3" fill="#9c0000"/>
<circle cx="1693.45" cy="1762.4" r="8.3" fill="#9c0000"/>
<circle cx="1698.68" cy="1762.4" r="8.3" fill="#9c0000"/>
<circle cx="1703.9" cy="1762.4" r="8.3" fill="#9c0000"/>
<circle cx="1744" cy="1765.72" r="8.3" fill="#9c0000"/>
<circle cx="1749.25" cy="1765.72" r="8.3" fill="#9c0000"/>
<circle cx="1754.5" cy="1765.72" r="8.3" fill="#9c0000"/>
<circle cx="1759.75" cy="1765.72" r="8.3" fill="#9c0000"/>
<circle cx="1765" cy="1765.72" r="8.3" fill="#9c0000"/>
<circle cx="1814.2" cy="1768.1" r="8.3" fill="#0a0aff"/>
<circle cx="1805" cy="1776.17" r="8.3" fill="#0a0aff"/>
<circle cx="1810.25" cy="1776.17" r="8.3" fill="#0a0aff"/>
<circle cx="1815.5" cy="1776.17" r="8.3" fill="#0a0aff"/>
<circle cx="1820.75" cy="1776.17" r="8.3" fill="#0a0aff"/>
<circle cx="1826" cy="1776.17" r="8.3" fill="#0a0aff"/>
<circle cx="1882.9" cy="1763.35" r="8.3" fill="#0a0aff"/>
<circle cx="1874.2" cy="1769.05" r="8.3" fill="#0a0aff"/>
<circle cx="1866" cy="1776.17" r="8.3" fill="#0a0aff"/>
<circle cx="1870.83" cy="1776.17" r="8.3" fill="#0a0aff"/>
<circle cx="1875.65" cy="1776.17" r="8.3" fill="#0a0aff"/>
<circle cx="1880.47" cy="1776.17" r="8.3" fill="#0a0aff"/>
<circle cx="1885.3" cy="1776.17" r="8.3" fill="#0a0aff"/>
<circle cx="1936.9" cy="1746.25" r="8.3" fill="#0a0aff"/>
<circle cx="1927.2" cy="1762.4" r="8.3" fill="#0a0aff"/>
<circle cx="1932" cy="1762.4" r="8.3" fill="#0a0aff"/>
<circle cx="1936.8" cy="1762.4" r="8.3" fill="#0a0aff"/>
<circle cx="1941.6" cy="1762.4" r="8.3" fill="#0a0aff"/>
<circle cx="1946.4" cy="1762.4" r="8.3" fill="#0a0aff"/>
<circle cx="1998" cy="1730.1" r="8.3" fill="#0a0aff"/>
<circle cx="1992.7" cy="1746.25" r="8.3" fill="#0a0aff"/>
<circle cx="1988.2" cy="1762.4" r="8.3" fill="#0a0aff"/>
<circle cx="1993" cy="1762.4" r="8.3" fill="#0a0aff"/>
<circle cx="1997.8" cy="1762.4" r="8.3" fill="#0a0aff"/>
<circle cx="2002.6" cy="1762.4" r="8.3" fill="#0a0aff"/>
<circle cx="2007.4" cy="1762.4" r="8.3" fill="#0a0aff"/>
<circle cx="2059" cy="1693.05" r="8.3" fill="#0a0aff"/>
<circle cx="2051" cy="1744.35" r="8.3" fill="#0a0aff"/>
<circle cx="2061" cy="1744.35" r="8.3" fill="#0a0aff"/>
<circle cx="2049.2" cy="1761.45" r="8.3" fill="#0a0aff"/>
<circle cx="2054" cy="1761.45" r="8.3" fill="#0a0aff"/>
<circle cx="2058.8" cy="1761.45" r="8.3" fill="#0a0aff"/>
<circle cx="2063.6" cy="1761.45" r="8.3" fill="#0a0aff"/>
<circle cx="2068.4" cy="1761.45" r="8.3" fill="#0a0aff"/>
<circle cx="2109.3" cy="1752.9" r="8.3" fill="#0a0aff"/>
<circle cx="2119.4" cy="1752.9" r="8.3" fill="#0a0aff"/>
<circle cx="2129.5" cy="1752.9" r="8.3" fill="#0a0aff"/>
<line x1="1105.1" y1="1715.2" x2="2162" y2="1715.2" stroke="#000" stroke-width="2.6"/>
<text x="997.7" y="1823.3" font-size="25">Patient ID</text>
<text x="1145.6" y="1823.3" font-size="25" text-anchor="middle">1</text>
<text x="1206.45" y="1823.3" font-size="25" text-anchor="middle">2</text>
<text x="1267.3" y="1823.3" font-size="25" text-anchor="middle">3</text>
<text x="1328.15" y="1823.3" font-size="25" text-anchor="middle">4</text>
<text x="1389" y="1823.3" font-size="25" text-anchor="middle">5</text>
<text x="1449.85" y="1823.3" font-size="25" text-anchor="middle">7</text>
<text x="1510.7" y="1823.3" font-size="25" text-anchor="middle">13</text>
<text x="1571.55" y="1823.3" font-size="25" text-anchor="middle">14</text>
<text x="1632.4" y="1823.3" font-size="25" text-anchor="middle">15</text>
<text x="1693.25" y="1823.3" font-size="25" text-anchor="middle">18</text>
<text x="1754.1" y="1823.3" font-size="25" text-anchor="middle">19</text>
<text x="1814.95" y="1823.3" font-size="25" text-anchor="middle">18</text>
<text x="1875.8" y="1823.3" font-size="25" text-anchor="middle">19</text>
<text x="1936.65" y="1823.3" font-size="25" text-anchor="middle">20</text>
<text x="1997.5" y="1823.3" font-size="25" text-anchor="middle">22</text>
<text x="2058.35" y="1823.3" font-size="25" text-anchor="middle">23</text>
<text x="2119.2" y="1823.3" font-size="25" text-anchor="middle">34</text>
<line x1="1123.2" y1="1837.3" x2="1778.2" y2="1837.3" stroke="#000" stroke-width="2.2"/>
<line x1="1792.2" y1="1837.3" x2="2161.9" y2="1837.3" stroke="#000" stroke-width="2.2"/>
<text x="1451" y="1866.2" font-size="25" text-anchor="middle">Relapse</text>
<text x="1976.7" y="1866.2" font-size="25" text-anchor="middle">Non-relapse</text>
<text x="1039.5" y="1540.8" font-size="25" text-anchor="middle" transform="rotate(-90 1039.5 1540.8)">Normalized individual SJs</text>
</svg>
</body></html>
